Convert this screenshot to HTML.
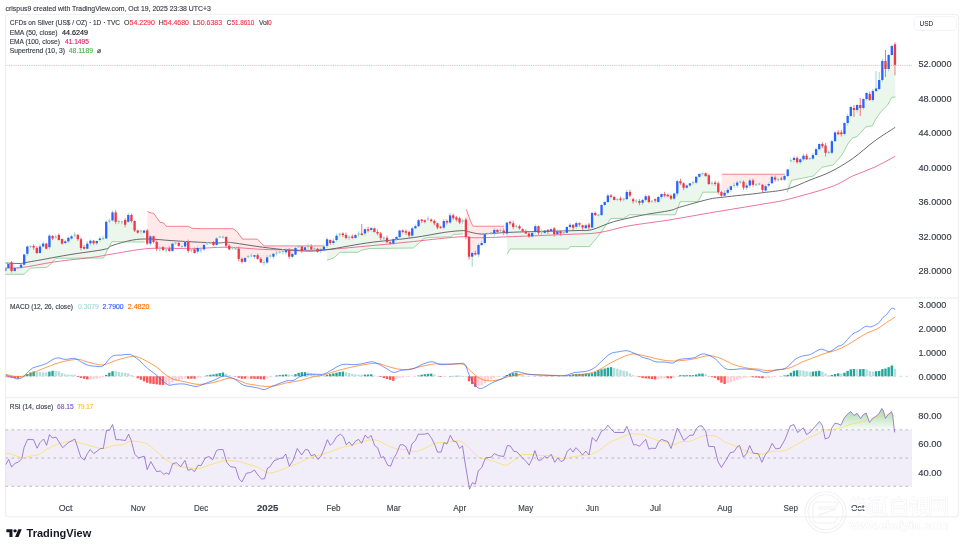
<!DOCTYPE html><html><head><meta charset="utf-8"><style>html,body{margin:0;padding:0;background:#fff;width:964px;height:550px;overflow:hidden}svg{display:block;filter:blur(0.3px)}</style></head><body>
<svg width="964" height="550" viewBox="0 0 964 550" font-family='"Liberation Sans", sans-serif'>
<rect width="964" height="550" fill="#fff"/>
<defs><clipPath id="plot"><rect x="5.5" y="14.8" width="906.5" height="501.5"/></clipPath><linearGradient id="ob" gradientUnits="userSpaceOnUse" x1="0" y1="408" x2="0" y2="430"><stop offset="0" stop-color="#4CAF50" stop-opacity="0.5"/><stop offset="1" stop-color="#4CAF50" stop-opacity="0.04"/></linearGradient><clipPath id="above70"><rect x="5" y="398" width="907" height="31.8"/></clipPath></defs>
<text x="5.6" y="10.9" font-size="6.9" fill="#3a3d44" stroke="#3a3d44" stroke-width="0.14" textLength="205.2" lengthAdjust="spacingAndGlyphs">crispus9 created with TradingView.com, Oct 19, 2025 23:38 UTC+3</text>
<rect x="5.5" y="14.3" width="953" height="502.5" rx="3" fill="none" stroke="#F1F1F2" stroke-width="1.3"/>
<rect x="5.5" y="297.2" width="953" height="1.4" fill="#EEF0F4"/>
<rect x="5.5" y="396.8" width="953" height="1.4" fill="#EEF0F4"/>
<g clip-path="url(#plot)">
<polygon points="5.2,269.5 8.4,266.0 11.6,266.8 14.7,269.5 17.9,267.6 21.0,266.1 24.2,259.6 27.3,250.2 30.5,246.5 33.6,246.8 36.8,250.5 40.0,249.8 43.1,245.1 46.3,246.1 49.4,241.4 52.6,237.2 55.7,237.0 58.9,237.5 62.0,241.3 65.2,242.2 68.3,239.6 71.5,237.4 74.7,235.0 77.8,237.1 81.0,243.6 84.1,247.8 87.3,246.1 90.4,242.0 93.6,242.0 96.7,242.2 99.9,239.2 103.1,238.5 106.2,230.2 109.4,221.0 112.5,216.4 115.7,217.1 118.8,221.5 122.0,221.8 125.1,222.3 128.3,218.4 131.4,218.0 134.6,225.8 137.8,231.6 140.9,231.0 144.1,231.6 144.7,242.1 112.0,241.7 108.9,247.1 103.5,258.0 56.0,258.3 49.8,265.0 46.7,267.3 30.3,268.1 24.1,274.3 5.4,274.3" fill="#4CAF50" fill-opacity="0.11"/>
<polygon points="147.2,237.1 150.4,239.9 153.5,239.2 156.7,245.3 159.8,248.7 163.0,248.6 166.2,250.0 169.3,249.8 172.5,247.2 175.6,243.0 178.8,244.4 181.9,246.5 185.1,244.2 188.2,246.4 191.4,250.1 194.5,251.2 197.7,249.8 200.9,250.0 204.0,247.2 207.2,243.0 210.3,243.0 213.5,243.5 216.6,241.8 219.8,237.0 222.9,237.0 226.1,241.4 229.3,247.6 232.4,248.0 235.6,248.7 238.7,253.8 241.9,260.4 245.0,259.9 248.2,256.7 251.3,256.0 254.5,255.9 257.6,257.0 260.8,260.7 264.0,262.5 267.1,259.9 270.3,256.0 273.4,255.2 276.6,253.0 279.7,252.3 282.9,251.6 286.0,251.2 289.2,253.4 292.4,255.4 295.5,251.3 298.7,246.6 301.8,248.8 305.0,248.8 308.1,246.6 311.3,248.1 314.4,248.8 317.6,250.2 320.8,250.2 323.9,248.4 324.3,245.9 264.1,245.9 257.3,239.1 242.5,239.1 237.1,231.7 233.1,228.7 200.7,228.7 191.9,228.3 188.6,226.3 166.3,226.3 163.6,222.9 160.2,222.3 153.5,213.2 150.1,212.8 147.4,211.5" fill="#FF5252" fill-opacity="0.13"/>
<polygon points="327.1,242.6 330.2,241.5 333.4,241.9 336.5,237.8 339.7,234.2 342.8,234.2 346.0,236.4 349.1,237.2 352.3,237.2 355.5,236.4 358.6,234.0 361.8,234.2 364.9,231.3 368.1,229.9 371.2,229.0 374.4,230.2 377.5,232.8 380.7,235.7 383.8,238.0 387.0,240.0 390.2,242.9 393.3,241.4 396.5,238.1 399.6,233.8 402.8,231.2 405.9,231.9 409.1,233.8 412.2,231.9 415.4,227.2 418.6,223.2 421.7,220.3 424.9,221.1 428.0,218.9 431.2,220.3 434.3,222.2 437.5,225.4 440.6,227.2 443.8,224.3 446.9,221.8 450.1,218.9 453.3,216.8 456.4,218.5 459.6,220.3 462.7,221.0 463.1,234.0 453.8,234.4 450.7,236.8 427.4,237.6 422.7,239.1 419.6,242.7 413.4,248.0 369.8,248.5 362.0,250.0 358.1,252.3 340.2,252.3 334.0,257.8 327.0,260.4" fill="#4CAF50" fill-opacity="0.11"/>
<polygon points="465.9,228.3 469.0,246.8 472.2,254.8 475.3,253.8 478.5,249.8 481.7,244.1 484.8,238.6 488.0,233.5 491.1,233.0 494.3,231.7 497.4,230.9 500.6,230.6 503.7,231.7 504.2,226.2 473.0,226.2 470.8,221.8 466.3,209.4" fill="#FF5252" fill-opacity="0.13"/>
<polygon points="506.9,228.1 510.0,222.6 513.2,225.2 516.4,226.2 519.5,227.3 522.7,230.2 525.8,232.4 529.0,234.9 532.1,234.6 535.3,229.1 538.4,229.5 541.6,232.0 544.8,231.7 547.9,230.9 551.1,230.2 554.2,231.3 557.4,232.8 560.5,232.4 563.7,232.5 566.8,229.9 570.0,225.9 573.1,226.2 576.3,224.9 579.5,223.8 582.6,226.4 585.8,226.8 588.9,226.1 592.1,220.2 595.2,214.1 598.4,215.1 601.5,210.1 604.7,203.5 607.9,198.8 611.0,196.2 614.2,198.4 617.3,199.6 620.5,199.2 623.6,199.2 626.8,195.6 629.9,193.7 633.1,200.2 636.2,201.0 639.4,201.9 642.6,201.4 645.7,198.1 648.9,199.1 652.0,201.3 655.2,199.9 658.3,199.5 661.5,195.5 664.6,194.8 667.8,195.5 671.0,197.1 674.1,196.1 677.3,187.3 680.4,182.2 683.6,185.5 686.7,186.6 689.9,184.4 693.0,182.6 696.2,179.7 699.3,175.4 702.5,173.6 705.7,174.6 708.8,179.7 712.0,183.3 715.1,183.3 718.3,187.7 718.7,192.2 702.9,192.2 698.1,201.7 680.2,201.7 675.4,214.8 629.4,214.8 623.6,218.4 611.0,218.4 599.0,235.1 589.5,246.6 570.4,246.6 568.0,249.0 510.0,249.0 507.2,254.2" fill="#4CAF50" fill-opacity="0.11"/>
<polygon points="721.4,193.9 724.6,194.2 727.7,191.4 730.9,188.1 734.1,185.5 737.2,184.1 740.4,181.9 743.5,184.8 746.7,186.6 749.8,182.9 753.0,182.6 756.1,184.8 759.3,184.0 762.4,187.4 765.6,188.4 768.8,184.8 771.9,180.1 775.1,178.6 778.2,179.7 781.4,179.1 784.5,177.8 784.9,174.2 721.9,174.2" fill="#FF5252" fill-opacity="0.13"/>
<polygon points="787.7,172.8 790.8,160.8 794.0,158.9 797.2,160.1 800.3,160.8 803.5,157.5 806.6,157.5 809.8,158.6 812.9,156.8 816.1,152.1 819.2,146.6 822.4,145.1 825.5,149.2 828.7,152.5 831.9,147.0 835.0,136.8 838.2,133.3 841.3,133.3 844.5,128.5 847.6,119.5 850.8,111.5 853.9,109.0 857.1,107.5 860.3,106.5 863.4,103.5 866.6,96.0 869.7,97.0 872.9,95.5 876.0,89.8 879.2,84.5 882.3,70.5 885.5,65.0 888.6,62.0 891.8,50.5 895.0,54.5 895.4,97.0 891.9,97.4 887.6,105.1 881.0,111.6 875.6,119.3 872.3,125.8 865.8,126.9 857.0,136.7 852.7,137.8 848.3,143.2 841.8,155.2 833.0,165.1 822.1,167.2 813.4,176.0 802.5,178.1 791.6,180.3 787.2,192.3" fill="#4CAF50" fill-opacity="0.11"/>
<path d="M5.4,268.1 C8.4,268.0 15.1,268.3 23.3,267.3 C31.5,266.3 42.8,263.6 54.5,261.9 C66.2,260.2 84.3,258.4 93.4,257.2 C102.5,256.0 99.5,256.1 108.9,254.6 C118.3,253.1 136.2,249.4 150.0,248.4 C163.8,247.4 179.3,248.9 192.0,248.7 C204.7,248.5 214.5,247.1 226.3,247.2 C238.1,247.3 252.6,249.0 262.7,249.4 C272.8,249.8 277.4,249.7 287.0,249.8 C296.6,249.9 306.7,250.6 320.0,250.0 C333.3,249.4 351.1,247.5 366.7,246.1 C382.3,244.7 397.8,243.1 413.4,241.5 C428.9,239.9 449.4,237.4 460.0,236.8 C470.6,236.2 467.2,237.9 477.0,237.8 C486.8,237.7 502.8,237.0 518.6,236.4 C534.4,235.8 558.6,234.8 572.0,234.2 C585.4,233.6 589.7,234.0 599.0,232.6 C608.3,231.2 616.7,228.1 628.0,226.0 C639.3,223.9 653.6,222.5 667.0,220.3 C680.4,218.2 692.3,215.9 708.6,213.1 C724.9,210.3 751.9,206.0 765.0,203.7 C778.1,201.4 776.2,202.3 787.2,199.5 C798.2,196.7 820.0,190.8 830.9,186.9 C841.8,183.0 845.4,179.3 852.7,176.0 C860.0,172.7 867.4,170.5 874.5,167.2 C881.6,163.9 891.8,158.1 895.2,156.3" fill="none" stroke="#F06292" stroke-width="1" stroke-opacity="0.9"/>
<path d="M5.4,263.0 C7.9,263.1 16.9,263.6 20.2,263.5 C23.4,263.4 20.5,263.5 24.9,262.7 C29.3,261.9 39.2,260.2 46.7,258.8 C54.2,257.4 60.4,256.2 70.0,254.6 C79.6,253.0 97.2,250.9 104.2,249.4 C111.2,247.9 107.3,247.2 112.0,245.6 C116.7,244.0 126.1,241.2 132.3,240.1 C138.5,239.0 143.1,238.9 149.4,239.0 C155.7,239.1 162.4,240.0 170.0,240.5 C177.6,241.0 186.8,241.6 195.0,242.0 C203.2,242.4 213.8,242.9 219.0,242.9 C224.2,242.9 223.9,242.2 226.3,242.2 C228.7,242.2 227.5,242.1 233.6,242.9 C239.7,243.7 253.3,246.0 262.7,247.2 C272.1,248.4 280.4,249.5 290.0,250.1 C299.6,250.7 307.2,251.8 320.0,250.6 C332.8,249.4 351.1,245.2 366.7,243.0 C382.3,240.8 400.4,239.4 413.4,237.6 C426.4,235.8 436.2,233.6 444.5,232.4 C452.8,231.2 458.9,230.7 463.1,230.6 C467.4,230.5 467.2,231.5 470.0,232.1 C472.8,232.7 476.8,233.8 480.0,234.0 C483.2,234.2 483.1,233.8 489.5,233.5 C495.9,233.2 504.4,232.5 518.6,232.0 C532.9,231.5 562.8,231.0 575.0,230.6 C587.2,230.2 585.4,231.2 591.8,229.7 C598.2,228.2 605.1,224.1 613.6,221.7 C622.1,219.3 633.3,217.0 642.7,215.1 C652.1,213.2 663.9,211.8 670.0,210.5 C676.1,209.2 673.1,209.2 679.5,207.3 C685.9,205.4 701.3,201.0 708.6,199.3 C715.9,197.6 714.2,198.3 723.1,197.2 C732.0,196.1 751.3,194.2 762.0,192.8 C772.7,191.4 779.2,191.1 787.2,189.0 C795.2,186.9 802.7,182.9 810.0,180.0 C817.3,177.1 823.8,175.2 830.9,171.6 C838.0,168.0 845.4,163.6 852.7,158.5 C860.0,153.4 867.4,146.3 874.5,141.1 C881.6,135.9 891.8,129.6 895.2,127.3" fill="none" stroke="#434651" stroke-width="1" stroke-opacity="0.8"/>
<polyline points="5.4,274.3 24.1,274.3 30.3,268.1 46.7,267.3 49.8,265.0 56.0,258.3 103.5,258.0 108.9,247.1 112.0,241.7 144.7,242.1" fill="none" stroke="#4CAF50" stroke-width="1" stroke-opacity="0.5"/>
<polyline points="147.4,211.5 150.1,212.8 153.5,213.2 160.2,222.3 163.6,222.9 166.3,226.3 188.6,226.3 191.9,228.3 200.7,228.7 233.1,228.7 237.1,231.7 242.5,239.1 257.3,239.1 264.1,245.9 324.3,245.9" fill="none" stroke="#F23645" stroke-width="1" stroke-opacity="0.6"/>
<polyline points="327.0,260.4 334.0,257.8 340.2,252.3 358.1,252.3 362.0,250.0 369.8,248.5 413.4,248.0 419.6,242.7 422.7,239.1 427.4,237.6 450.7,236.8 453.8,234.4 463.1,234.0" fill="none" stroke="#4CAF50" stroke-width="1" stroke-opacity="0.5"/>
<polyline points="466.3,209.4 470.8,221.8 473.0,226.2 504.2,226.2" fill="none" stroke="#F23645" stroke-width="1" stroke-opacity="0.6"/>
<polyline points="507.2,254.2 510.0,249.0 568.0,249.0 570.4,246.6 589.5,246.6 599.0,235.1 611.0,218.4 623.6,218.4 629.4,214.8 675.4,214.8 680.2,201.7 698.1,201.7 702.9,192.2 718.7,192.2" fill="none" stroke="#4CAF50" stroke-width="1" stroke-opacity="0.5"/>
<polyline points="721.9,174.2 784.9,174.2" fill="none" stroke="#F23645" stroke-width="1" stroke-opacity="0.6"/>
<polyline points="787.2,192.3 791.6,180.3 802.5,178.1 813.4,176.0 822.1,167.2 833.0,165.1 841.8,155.2 848.3,143.2 852.7,137.8 857.0,136.7 865.8,126.9 872.3,125.8 875.6,119.3 881.0,111.6 887.6,105.1 891.9,97.4 895.4,97.0" fill="none" stroke="#4CAF50" stroke-width="1" stroke-opacity="0.5"/>
<rect x="4.75" y="266.9" width="1" height="4.9" fill="#9fd6cf"/>
<rect x="4.10" y="268.0" width="2.3" height="3.0" fill="#2962FF"/>
<rect x="7.90" y="262.2" width="1" height="6.4" fill="#9fd6cf"/>
<rect x="7.25" y="264.0" width="2.3" height="4.0" fill="#2962FF"/>
<rect x="11.06" y="261.0" width="1" height="11.5" fill="#f07a84"/>
<rect x="10.41" y="262.5" width="2.3" height="8.5" fill="#F23645"/>
<rect x="14.21" y="266.4" width="1" height="5.8" fill="#9fd6cf"/>
<rect x="13.56" y="268.0" width="2.3" height="3.0" fill="#2962FF"/>
<rect x="17.37" y="266.5" width="1" height="3.1" fill="#9fd6cf"/>
<rect x="16.72" y="267.1" width="2.3" height="1.0" fill="#7fc4bb"/>
<rect x="20.52" y="264.1" width="1" height="4.8" fill="#9fd6cf"/>
<rect x="19.88" y="264.7" width="2.3" height="2.9" fill="#2962FF"/>
<rect x="23.68" y="253.9" width="1" height="11.5" fill="#9fd6cf"/>
<rect x="23.03" y="254.5" width="2.3" height="10.2" fill="#2962FF"/>
<rect x="26.83" y="245.2" width="1" height="10.8" fill="#9fd6cf"/>
<rect x="26.18" y="246.5" width="2.3" height="7.3" fill="#2962FF"/>
<rect x="29.99" y="245.3" width="1" height="2.7" fill="#9fd6cf"/>
<rect x="29.34" y="246.0" width="2.3" height="1.0" fill="#7fc4bb"/>
<rect x="33.14" y="244.2" width="1" height="5.7" fill="#f07a84"/>
<rect x="32.49" y="246.0" width="2.3" height="1.5" fill="#F23645"/>
<rect x="36.30" y="246.3" width="1" height="7.9" fill="#f07a84"/>
<rect x="35.65" y="248.0" width="2.3" height="5.0" fill="#F23645"/>
<rect x="39.45" y="244.0" width="1" height="9.5" fill="#9fd6cf"/>
<rect x="38.80" y="246.5" width="2.3" height="6.5" fill="#2962FF"/>
<rect x="42.61" y="241.4" width="1" height="6.2" fill="#9fd6cf"/>
<rect x="41.96" y="243.6" width="2.3" height="2.9" fill="#2962FF"/>
<rect x="45.77" y="242.8" width="1" height="6.6" fill="#f07a84"/>
<rect x="45.12" y="243.6" width="2.3" height="5.1" fill="#F23645"/>
<rect x="48.92" y="234.5" width="1" height="14.8" fill="#9fd6cf"/>
<rect x="48.27" y="235.6" width="2.3" height="11.6" fill="#2962FF"/>
<rect x="52.07" y="235.1" width="1" height="5.0" fill="#f07a84"/>
<rect x="51.42" y="236.0" width="2.3" height="2.5" fill="#F23645"/>
<rect x="55.23" y="234.7" width="1" height="4.0" fill="#9fd6cf"/>
<rect x="54.58" y="236.5" width="2.3" height="1.0" fill="#7fc4bb"/>
<rect x="58.38" y="233.4" width="1" height="7.2" fill="#f07a84"/>
<rect x="57.73" y="235.0" width="2.3" height="5.0" fill="#F23645"/>
<rect x="61.54" y="238.4" width="1" height="6.1" fill="#f07a84"/>
<rect x="60.89" y="239.0" width="2.3" height="4.6" fill="#F23645"/>
<rect x="64.69" y="239.5" width="1" height="4.8" fill="#9fd6cf"/>
<rect x="64.04" y="241.4" width="2.3" height="1.6" fill="#2962FF"/>
<rect x="67.85" y="236.7" width="1" height="6.4" fill="#9fd6cf"/>
<rect x="67.20" y="237.8" width="2.3" height="3.6" fill="#2962FF"/>
<rect x="71.00" y="234.9" width="1" height="4.7" fill="#9fd6cf"/>
<rect x="70.35" y="236.3" width="2.3" height="2.2" fill="#2962FF"/>
<rect x="74.16" y="232.4" width="1" height="5.0" fill="#9fd6cf"/>
<rect x="73.51" y="234.5" width="2.3" height="1.0" fill="#7fc4bb"/>
<rect x="77.31" y="234.0" width="1" height="6.8" fill="#f07a84"/>
<rect x="76.66" y="235.0" width="2.3" height="4.2" fill="#F23645"/>
<rect x="80.47" y="237.6" width="1" height="12.6" fill="#f07a84"/>
<rect x="79.82" y="239.2" width="2.3" height="8.8" fill="#F23645"/>
<rect x="83.62" y="245.0" width="1" height="4.7" fill="#f07a84"/>
<rect x="82.97" y="247.0" width="2.3" height="1.7" fill="#F23645"/>
<rect x="86.78" y="241.1" width="1" height="8.3" fill="#9fd6cf"/>
<rect x="86.13" y="243.6" width="2.3" height="5.1" fill="#2962FF"/>
<rect x="89.93" y="239.4" width="1" height="6.0" fill="#9fd6cf"/>
<rect x="89.28" y="240.7" width="2.3" height="2.6" fill="#2962FF"/>
<rect x="93.09" y="239.9" width="1" height="4.9" fill="#f07a84"/>
<rect x="92.44" y="240.7" width="2.3" height="2.6" fill="#F23645"/>
<rect x="96.24" y="240.4" width="1" height="4.7" fill="#9fd6cf"/>
<rect x="95.59" y="241.0" width="2.3" height="2.3" fill="#2962FF"/>
<rect x="99.40" y="236.5" width="1" height="5.2" fill="#9fd6cf"/>
<rect x="98.75" y="238.5" width="2.3" height="1.5" fill="#2962FF"/>
<rect x="102.55" y="235.7" width="1" height="4.4" fill="#9fd6cf"/>
<rect x="101.90" y="238.0" width="2.3" height="1.0" fill="#7fc4bb"/>
<rect x="105.71" y="220.5" width="1" height="18.5" fill="#9fd6cf"/>
<rect x="105.06" y="221.8" width="2.3" height="16.7" fill="#2962FF"/>
<rect x="108.86" y="218.6" width="1" height="4.6" fill="#9fd6cf"/>
<rect x="108.21" y="220.5" width="2.3" height="1.0" fill="#7fc4bb"/>
<rect x="112.02" y="210.7" width="1" height="11.0" fill="#9fd6cf"/>
<rect x="111.37" y="212.4" width="2.3" height="7.9" fill="#2962FF"/>
<rect x="115.17" y="210.2" width="1" height="14.0" fill="#f07a84"/>
<rect x="114.52" y="212.4" width="2.3" height="9.4" fill="#F23645"/>
<rect x="118.33" y="219.6" width="1" height="4.3" fill="#9fd6cf"/>
<rect x="117.68" y="221.0" width="2.3" height="1.0" fill="#7fc4bb"/>
<rect x="121.48" y="220.7" width="1" height="3.5" fill="#9fd6cf"/>
<rect x="120.83" y="221.3" width="2.3" height="1.0" fill="#7fc4bb"/>
<rect x="124.64" y="218.2" width="1" height="9.0" fill="#f07a84"/>
<rect x="123.99" y="220.0" width="2.3" height="4.7" fill="#F23645"/>
<rect x="127.79" y="212.9" width="1" height="10.0" fill="#9fd6cf"/>
<rect x="127.14" y="215.0" width="2.3" height="6.8" fill="#2962FF"/>
<rect x="130.95" y="213.7" width="1" height="9.1" fill="#f07a84"/>
<rect x="130.30" y="215.0" width="2.3" height="6.0" fill="#F23645"/>
<rect x="134.10" y="220.5" width="1" height="11.5" fill="#f07a84"/>
<rect x="133.45" y="221.0" width="2.3" height="9.5" fill="#F23645"/>
<rect x="137.26" y="229.7" width="1" height="3.8" fill="#f07a84"/>
<rect x="136.61" y="230.5" width="2.3" height="2.2" fill="#F23645"/>
<rect x="140.41" y="229.9" width="1" height="3.7" fill="#9fd6cf"/>
<rect x="139.76" y="230.5" width="2.3" height="1.0" fill="#7fc4bb"/>
<rect x="143.57" y="229.7" width="1" height="4.0" fill="#9fd6cf"/>
<rect x="142.92" y="230.5" width="2.3" height="2.2" fill="#2962FF"/>
<rect x="146.72" y="229.0" width="1" height="16.0" fill="#f07a84"/>
<rect x="146.07" y="230.5" width="2.3" height="13.1" fill="#F23645"/>
<rect x="149.88" y="235.0" width="1" height="10.8" fill="#9fd6cf"/>
<rect x="149.23" y="236.3" width="2.3" height="7.3" fill="#2962FF"/>
<rect x="153.03" y="235.6" width="1" height="7.8" fill="#f07a84"/>
<rect x="152.38" y="236.3" width="2.3" height="5.7" fill="#F23645"/>
<rect x="156.19" y="240.4" width="1" height="10.6" fill="#f07a84"/>
<rect x="155.54" y="242.0" width="2.3" height="6.7" fill="#F23645"/>
<rect x="159.34" y="246.1" width="1" height="5.4" fill="#9fd6cf"/>
<rect x="158.69" y="248.2" width="2.3" height="1.0" fill="#7fc4bb"/>
<rect x="162.50" y="246.1" width="1" height="5.2" fill="#f07a84"/>
<rect x="161.85" y="247.2" width="2.3" height="2.8" fill="#F23645"/>
<rect x="165.66" y="248.3" width="1" height="4.5" fill="#9fd6cf"/>
<rect x="165.00" y="249.5" width="2.3" height="1.0" fill="#7fc4bb"/>
<rect x="168.81" y="246.3" width="1" height="5.4" fill="#f07a84"/>
<rect x="168.16" y="248.7" width="2.3" height="2.2" fill="#F23645"/>
<rect x="171.97" y="242.7" width="1" height="9.1" fill="#9fd6cf"/>
<rect x="171.31" y="243.6" width="2.3" height="7.3" fill="#2962FF"/>
<rect x="175.12" y="241.5" width="1" height="3.4" fill="#9fd6cf"/>
<rect x="174.47" y="242.5" width="2.3" height="1.0" fill="#7fc4bb"/>
<rect x="178.27" y="241.3" width="1" height="5.5" fill="#f07a84"/>
<rect x="177.62" y="243.0" width="2.3" height="2.8" fill="#F23645"/>
<rect x="181.43" y="245.5" width="1" height="2.8" fill="#9fd6cf"/>
<rect x="180.78" y="246.0" width="2.3" height="1.0" fill="#7fc4bb"/>
<rect x="184.58" y="240.8" width="1" height="7.4" fill="#9fd6cf"/>
<rect x="183.93" y="242.0" width="2.3" height="4.5" fill="#2962FF"/>
<rect x="187.74" y="239.6" width="1" height="13.2" fill="#f07a84"/>
<rect x="187.09" y="242.0" width="2.3" height="8.9" fill="#F23645"/>
<rect x="190.89" y="248.1" width="1" height="4.3" fill="#9fd6cf"/>
<rect x="190.24" y="249.6" width="2.3" height="1.0" fill="#7fc4bb"/>
<rect x="194.05" y="247.5" width="1" height="6.1" fill="#f07a84"/>
<rect x="193.40" y="249.4" width="2.3" height="3.6" fill="#F23645"/>
<rect x="197.20" y="245.7" width="1" height="8.0" fill="#9fd6cf"/>
<rect x="196.55" y="248.0" width="2.3" height="3.6" fill="#2962FF"/>
<rect x="200.36" y="247.3" width="1" height="5.3" fill="#9fd6cf"/>
<rect x="199.71" y="249.5" width="2.3" height="1.0" fill="#7fc4bb"/>
<rect x="203.51" y="243.7" width="1" height="7.0" fill="#9fd6cf"/>
<rect x="202.86" y="245.0" width="2.3" height="4.4" fill="#2962FF"/>
<rect x="206.67" y="241.8" width="1" height="3.5" fill="#9fd6cf"/>
<rect x="206.02" y="242.5" width="2.3" height="1.0" fill="#7fc4bb"/>
<rect x="209.82" y="241.9" width="1" height="2.3" fill="#9fd6cf"/>
<rect x="209.17" y="242.5" width="2.3" height="1.0" fill="#7fc4bb"/>
<rect x="212.98" y="241.1" width="1" height="4.7" fill="#f07a84"/>
<rect x="212.33" y="242.0" width="2.3" height="3.0" fill="#F23645"/>
<rect x="216.13" y="237.3" width="1" height="8.3" fill="#9fd6cf"/>
<rect x="215.48" y="238.5" width="2.3" height="6.5" fill="#2962FF"/>
<rect x="219.29" y="236.0" width="1" height="2.3" fill="#9fd6cf"/>
<rect x="218.64" y="236.5" width="2.3" height="1.0" fill="#7fc4bb"/>
<rect x="222.44" y="235.8" width="1" height="2.9" fill="#9fd6cf"/>
<rect x="221.79" y="236.5" width="2.3" height="1.0" fill="#7fc4bb"/>
<rect x="225.60" y="236.4" width="1" height="11.6" fill="#f07a84"/>
<rect x="224.95" y="237.0" width="2.3" height="8.8" fill="#F23645"/>
<rect x="228.75" y="244.1" width="1" height="6.1" fill="#f07a84"/>
<rect x="228.10" y="245.8" width="2.3" height="3.6" fill="#F23645"/>
<rect x="231.91" y="246.5" width="1" height="3.2" fill="#9fd6cf"/>
<rect x="231.26" y="247.5" width="2.3" height="1.0" fill="#7fc4bb"/>
<rect x="235.06" y="247.0" width="1" height="3.0" fill="#9fd6cf"/>
<rect x="234.41" y="248.2" width="2.3" height="1.0" fill="#7fc4bb"/>
<rect x="238.22" y="246.5" width="1" height="14.9" fill="#f07a84"/>
<rect x="237.57" y="248.7" width="2.3" height="10.2" fill="#F23645"/>
<rect x="241.37" y="257.5" width="1" height="5.8" fill="#f07a84"/>
<rect x="240.72" y="258.9" width="2.3" height="2.9" fill="#F23645"/>
<rect x="244.53" y="257.3" width="1" height="5.2" fill="#9fd6cf"/>
<rect x="243.88" y="258.0" width="2.3" height="3.8" fill="#2962FF"/>
<rect x="247.68" y="255.0" width="1" height="3.2" fill="#9fd6cf"/>
<rect x="247.03" y="256.2" width="2.3" height="1.0" fill="#7fc4bb"/>
<rect x="250.84" y="253.3" width="1" height="4.0" fill="#9fd6cf"/>
<rect x="250.19" y="255.5" width="2.3" height="1.0" fill="#7fc4bb"/>
<rect x="253.99" y="254.7" width="1" height="4.4" fill="#9fd6cf"/>
<rect x="253.34" y="255.2" width="2.3" height="1.5" fill="#2962FF"/>
<rect x="257.15" y="253.6" width="1" height="6.0" fill="#f07a84"/>
<rect x="256.50" y="255.2" width="2.3" height="3.7" fill="#F23645"/>
<rect x="260.30" y="257.3" width="1" height="5.7" fill="#f07a84"/>
<rect x="259.65" y="258.9" width="2.3" height="3.6" fill="#F23645"/>
<rect x="263.46" y="260.4" width="1" height="5.0" fill="#9fd6cf"/>
<rect x="262.81" y="262.0" width="2.3" height="1.0" fill="#7fc4bb"/>
<rect x="266.62" y="255.2" width="1" height="9.2" fill="#9fd6cf"/>
<rect x="265.97" y="257.4" width="2.3" height="5.1" fill="#2962FF"/>
<rect x="269.77" y="254.5" width="1" height="3.3" fill="#9fd6cf"/>
<rect x="269.12" y="255.5" width="2.3" height="1.0" fill="#7fc4bb"/>
<rect x="272.93" y="253.0" width="1" height="5.8" fill="#9fd6cf"/>
<rect x="272.28" y="253.8" width="2.3" height="2.9" fill="#2962FF"/>
<rect x="276.08" y="250.9" width="1" height="4.6" fill="#9fd6cf"/>
<rect x="275.43" y="252.5" width="2.3" height="1.0" fill="#7fc4bb"/>
<rect x="279.23" y="250.6" width="1" height="3.1" fill="#9fd6cf"/>
<rect x="278.58" y="251.8" width="2.3" height="1.0" fill="#7fc4bb"/>
<rect x="282.39" y="249.0" width="1" height="5.6" fill="#9fd6cf"/>
<rect x="281.74" y="251.1" width="2.3" height="1.0" fill="#7fc4bb"/>
<rect x="285.54" y="247.9" width="1" height="6.5" fill="#9fd6cf"/>
<rect x="284.89" y="250.1" width="2.3" height="2.2" fill="#2962FF"/>
<rect x="288.70" y="248.0" width="1" height="10.7" fill="#f07a84"/>
<rect x="288.05" y="250.1" width="2.3" height="6.6" fill="#F23645"/>
<rect x="291.85" y="252.9" width="1" height="5.4" fill="#9fd6cf"/>
<rect x="291.20" y="253.9" width="2.3" height="2.9" fill="#2962FF"/>
<rect x="295.01" y="246.8" width="1" height="8.4" fill="#9fd6cf"/>
<rect x="294.36" y="248.0" width="2.3" height="6.6" fill="#2962FF"/>
<rect x="298.16" y="245.5" width="1" height="2.6" fill="#9fd6cf"/>
<rect x="297.51" y="246.1" width="2.3" height="1.0" fill="#7fc4bb"/>
<rect x="301.32" y="245.6" width="1" height="7.3" fill="#f07a84"/>
<rect x="300.67" y="246.6" width="2.3" height="4.4" fill="#F23645"/>
<rect x="304.47" y="244.9" width="1" height="6.7" fill="#9fd6cf"/>
<rect x="303.82" y="247.3" width="2.3" height="2.9" fill="#2962FF"/>
<rect x="307.63" y="243.7" width="1" height="5.9" fill="#9fd6cf"/>
<rect x="306.98" y="246.1" width="2.3" height="1.0" fill="#7fc4bb"/>
<rect x="310.78" y="244.2" width="1" height="6.5" fill="#f07a84"/>
<rect x="310.13" y="246.6" width="2.3" height="2.9" fill="#F23645"/>
<rect x="313.94" y="247.4" width="1" height="2.9" fill="#9fd6cf"/>
<rect x="313.29" y="248.3" width="2.3" height="1.0" fill="#7fc4bb"/>
<rect x="317.09" y="247.9" width="1" height="4.7" fill="#f07a84"/>
<rect x="316.44" y="248.8" width="2.3" height="2.9" fill="#F23645"/>
<rect x="320.25" y="247.8" width="1" height="5.5" fill="#9fd6cf"/>
<rect x="319.60" y="249.5" width="2.3" height="1.5" fill="#2962FF"/>
<rect x="323.40" y="244.4" width="1" height="7.2" fill="#9fd6cf"/>
<rect x="322.75" y="246.6" width="2.3" height="3.6" fill="#2962FF"/>
<rect x="326.56" y="237.5" width="1" height="10.5" fill="#9fd6cf"/>
<rect x="325.91" y="239.3" width="2.3" height="6.6" fill="#2962FF"/>
<rect x="329.71" y="239.3" width="1" height="5.5" fill="#f07a84"/>
<rect x="329.06" y="240.0" width="2.3" height="3.0" fill="#F23645"/>
<rect x="332.87" y="238.5" width="1" height="6.6" fill="#9fd6cf"/>
<rect x="332.22" y="240.8" width="2.3" height="2.2" fill="#2962FF"/>
<rect x="336.02" y="233.7" width="1" height="7.8" fill="#9fd6cf"/>
<rect x="335.38" y="235.7" width="2.3" height="4.3" fill="#2962FF"/>
<rect x="339.18" y="232.8" width="1" height="3.9" fill="#9fd6cf"/>
<rect x="338.53" y="233.7" width="2.3" height="1.0" fill="#7fc4bb"/>
<rect x="342.33" y="232.3" width="1" height="4.8" fill="#f07a84"/>
<rect x="341.69" y="233.5" width="2.3" height="1.5" fill="#F23645"/>
<rect x="345.49" y="232.6" width="1" height="6.6" fill="#f07a84"/>
<rect x="344.84" y="235.0" width="2.3" height="2.9" fill="#F23645"/>
<rect x="348.64" y="235.4" width="1" height="4.7" fill="#9fd6cf"/>
<rect x="348.00" y="236.7" width="2.3" height="1.0" fill="#7fc4bb"/>
<rect x="351.80" y="234.5" width="1" height="4.3" fill="#f07a84"/>
<rect x="351.15" y="236.4" width="2.3" height="1.5" fill="#F23645"/>
<rect x="354.95" y="234.2" width="1" height="4.5" fill="#9fd6cf"/>
<rect x="354.31" y="235.0" width="2.3" height="2.9" fill="#2962FF"/>
<rect x="358.11" y="231.2" width="1" height="5.4" fill="#9fd6cf"/>
<rect x="357.46" y="233.5" width="2.3" height="1.0" fill="#7fc4bb"/>
<rect x="361.26" y="224.0" width="1" height="11.5" fill="#f07a84"/>
<rect x="360.62" y="233.5" width="2.3" height="1.5" fill="#F23645"/>
<rect x="364.42" y="228.4" width="1" height="7.2" fill="#9fd6cf"/>
<rect x="363.77" y="229.2" width="2.3" height="4.3" fill="#2962FF"/>
<rect x="367.57" y="226.7" width="1" height="5.7" fill="#f07a84"/>
<rect x="366.93" y="229.2" width="2.3" height="1.4" fill="#F23645"/>
<rect x="370.73" y="226.9" width="1" height="4.6" fill="#9fd6cf"/>
<rect x="370.08" y="228.1" width="2.3" height="1.8" fill="#2962FF"/>
<rect x="373.88" y="227.6" width="1" height="4.9" fill="#f07a84"/>
<rect x="373.24" y="228.4" width="2.3" height="3.6" fill="#F23645"/>
<rect x="377.04" y="229.6" width="1" height="5.7" fill="#f07a84"/>
<rect x="376.39" y="232.0" width="2.3" height="1.5" fill="#F23645"/>
<rect x="380.19" y="231.9" width="1" height="8.3" fill="#f07a84"/>
<rect x="379.55" y="233.5" width="2.3" height="4.4" fill="#F23645"/>
<rect x="383.35" y="236.1" width="1" height="4.6" fill="#9fd6cf"/>
<rect x="382.70" y="237.5" width="2.3" height="1.0" fill="#7fc4bb"/>
<rect x="386.50" y="235.6" width="1" height="7.5" fill="#f07a84"/>
<rect x="385.86" y="237.8" width="2.3" height="4.4" fill="#F23645"/>
<rect x="389.66" y="241.2" width="1" height="3.5" fill="#f07a84"/>
<rect x="389.01" y="242.2" width="2.3" height="1.4" fill="#F23645"/>
<rect x="392.81" y="238.2" width="1" height="7.1" fill="#9fd6cf"/>
<rect x="392.17" y="239.2" width="2.3" height="4.4" fill="#2962FF"/>
<rect x="395.97" y="236.0" width="1" height="4.6" fill="#9fd6cf"/>
<rect x="395.32" y="237.0" width="2.3" height="2.2" fill="#2962FF"/>
<rect x="399.12" y="229.7" width="1" height="9.6" fill="#9fd6cf"/>
<rect x="398.48" y="230.5" width="2.3" height="6.5" fill="#2962FF"/>
<rect x="402.28" y="229.3" width="1" height="4.1" fill="#f07a84"/>
<rect x="401.63" y="230.5" width="2.3" height="1.5" fill="#F23645"/>
<rect x="405.44" y="229.5" width="1" height="5.5" fill="#f07a84"/>
<rect x="404.79" y="231.2" width="2.3" height="1.5" fill="#F23645"/>
<rect x="408.59" y="230.7" width="1" height="7.3" fill="#f07a84"/>
<rect x="407.94" y="232.0" width="2.3" height="3.6" fill="#F23645"/>
<rect x="411.74" y="226.8" width="1" height="10.4" fill="#9fd6cf"/>
<rect x="411.09" y="228.3" width="2.3" height="7.3" fill="#2962FF"/>
<rect x="414.90" y="224.7" width="1" height="4.2" fill="#9fd6cf"/>
<rect x="414.25" y="226.2" width="2.3" height="2.1" fill="#2962FF"/>
<rect x="418.05" y="218.9" width="1" height="8.1" fill="#9fd6cf"/>
<rect x="417.40" y="220.3" width="2.3" height="5.9" fill="#2962FF"/>
<rect x="421.21" y="219.1" width="1" height="4.0" fill="#f07a84"/>
<rect x="420.56" y="219.6" width="2.3" height="1.4" fill="#F23645"/>
<rect x="424.36" y="219.5" width="1" height="3.8" fill="#f07a84"/>
<rect x="423.71" y="220.3" width="2.3" height="1.5" fill="#F23645"/>
<rect x="427.52" y="216.4" width="1" height="4.6" fill="#9fd6cf"/>
<rect x="426.87" y="218.4" width="2.3" height="1.0" fill="#7fc4bb"/>
<rect x="430.67" y="218.4" width="1" height="4.1" fill="#f07a84"/>
<rect x="430.02" y="219.6" width="2.3" height="1.4" fill="#F23645"/>
<rect x="433.83" y="219.4" width="1" height="6.0" fill="#f07a84"/>
<rect x="433.18" y="221.0" width="2.3" height="2.3" fill="#F23645"/>
<rect x="436.98" y="222.6" width="1" height="6.6" fill="#f07a84"/>
<rect x="436.33" y="223.3" width="2.3" height="4.3" fill="#F23645"/>
<rect x="440.14" y="225.9" width="1" height="2.8" fill="#f07a84"/>
<rect x="439.49" y="226.9" width="2.3" height="1.0" fill="#F23645"/>
<rect x="443.29" y="219.0" width="1" height="10.2" fill="#9fd6cf"/>
<rect x="442.64" y="221.0" width="2.3" height="6.6" fill="#2962FF"/>
<rect x="446.45" y="219.4" width="1" height="5.1" fill="#f07a84"/>
<rect x="445.80" y="221.0" width="2.3" height="1.5" fill="#F23645"/>
<rect x="449.60" y="213.0" width="1" height="10.9" fill="#9fd6cf"/>
<rect x="448.95" y="215.3" width="2.3" height="7.2" fill="#2962FF"/>
<rect x="452.76" y="213.6" width="1" height="6.1" fill="#f07a84"/>
<rect x="452.11" y="215.3" width="2.3" height="2.9" fill="#F23645"/>
<rect x="455.91" y="215.9" width="1" height="5.6" fill="#f07a84"/>
<rect x="455.26" y="217.4" width="2.3" height="2.2" fill="#F23645"/>
<rect x="459.07" y="216.8" width="1" height="7.3" fill="#f07a84"/>
<rect x="458.42" y="218.2" width="2.3" height="4.3" fill="#F23645"/>
<rect x="462.22" y="219.0" width="1" height="4.8" fill="#9fd6cf"/>
<rect x="461.57" y="220.5" width="2.3" height="1.0" fill="#7fc4bb"/>
<rect x="465.38" y="217.7" width="1" height="21.6" fill="#f07a84"/>
<rect x="464.73" y="219.6" width="2.3" height="17.4" fill="#F23645"/>
<rect x="468.53" y="236.0" width="1" height="23.6" fill="#f07a84"/>
<rect x="467.88" y="237.0" width="2.3" height="19.7" fill="#F23645"/>
<rect x="471.69" y="252.0" width="1" height="14.9" fill="#9fd6cf"/>
<rect x="471.04" y="253.0" width="2.3" height="3.7" fill="#2962FF"/>
<rect x="474.84" y="250.6" width="1" height="4.9" fill="#f07a84"/>
<rect x="474.19" y="253.0" width="2.3" height="1.5" fill="#F23645"/>
<rect x="478.00" y="243.4" width="1" height="13.5" fill="#9fd6cf"/>
<rect x="477.35" y="245.0" width="2.3" height="9.5" fill="#2962FF"/>
<rect x="481.15" y="240.8" width="1" height="5.1" fill="#9fd6cf"/>
<rect x="480.50" y="243.0" width="2.3" height="2.1" fill="#2962FF"/>
<rect x="484.31" y="233.5" width="1" height="10.9" fill="#9fd6cf"/>
<rect x="483.66" y="234.2" width="2.3" height="8.8" fill="#2962FF"/>
<rect x="487.46" y="232.4" width="1" height="2.6" fill="#9fd6cf"/>
<rect x="486.81" y="233.0" width="2.3" height="1.0" fill="#7fc4bb"/>
<rect x="490.62" y="231.9" width="1" height="3.5" fill="#9fd6cf"/>
<rect x="489.97" y="232.5" width="2.3" height="1.0" fill="#7fc4bb"/>
<rect x="493.77" y="227.8" width="1" height="8.0" fill="#9fd6cf"/>
<rect x="493.12" y="229.9" width="2.3" height="3.6" fill="#2962FF"/>
<rect x="496.93" y="229.1" width="1" height="4.8" fill="#f07a84"/>
<rect x="496.28" y="229.9" width="2.3" height="2.1" fill="#F23645"/>
<rect x="500.08" y="228.3" width="1" height="3.6" fill="#9fd6cf"/>
<rect x="499.44" y="230.1" width="2.3" height="1.0" fill="#7fc4bb"/>
<rect x="503.24" y="228.3" width="1" height="6.9" fill="#f07a84"/>
<rect x="502.59" y="230.6" width="2.3" height="2.2" fill="#F23645"/>
<rect x="506.39" y="221.7" width="1" height="14.2" fill="#9fd6cf"/>
<rect x="505.75" y="222.6" width="2.3" height="10.9" fill="#2962FF"/>
<rect x="509.55" y="220.6" width="1" height="4.2" fill="#f07a84"/>
<rect x="508.90" y="221.9" width="2.3" height="1.4" fill="#F23645"/>
<rect x="512.70" y="220.8" width="1" height="8.3" fill="#f07a84"/>
<rect x="512.05" y="223.3" width="2.3" height="3.7" fill="#F23645"/>
<rect x="515.86" y="224.9" width="1" height="3.2" fill="#9fd6cf"/>
<rect x="515.21" y="225.7" width="2.3" height="1.0" fill="#7fc4bb"/>
<rect x="519.01" y="224.7" width="1" height="4.9" fill="#f07a84"/>
<rect x="518.37" y="226.2" width="2.3" height="2.2" fill="#F23645"/>
<rect x="522.17" y="228.3" width="1" height="4.1" fill="#f07a84"/>
<rect x="521.52" y="229.2" width="2.3" height="2.1" fill="#F23645"/>
<rect x="525.32" y="229.4" width="1" height="4.7" fill="#f07a84"/>
<rect x="524.67" y="231.3" width="2.3" height="2.2" fill="#F23645"/>
<rect x="528.48" y="231.9" width="1" height="5.9" fill="#f07a84"/>
<rect x="527.83" y="233.5" width="2.3" height="2.9" fill="#F23645"/>
<rect x="531.63" y="232.3" width="1" height="5.3" fill="#9fd6cf"/>
<rect x="530.99" y="232.8" width="2.3" height="3.6" fill="#2962FF"/>
<rect x="534.79" y="224.5" width="1" height="9.1" fill="#9fd6cf"/>
<rect x="534.14" y="226.2" width="2.3" height="5.8" fill="#2962FF"/>
<rect x="537.94" y="225.6" width="1" height="9.7" fill="#f07a84"/>
<rect x="537.29" y="226.2" width="2.3" height="6.6" fill="#F23645"/>
<rect x="541.10" y="229.4" width="1" height="5.5" fill="#9fd6cf"/>
<rect x="540.45" y="231.5" width="2.3" height="1.0" fill="#7fc4bb"/>
<rect x="544.25" y="229.9" width="1" height="3.9" fill="#9fd6cf"/>
<rect x="543.61" y="230.6" width="2.3" height="2.2" fill="#2962FF"/>
<rect x="547.41" y="229.3" width="1" height="4.7" fill="#f07a84"/>
<rect x="546.76" y="229.9" width="2.3" height="2.1" fill="#F23645"/>
<rect x="550.56" y="228.2" width="1" height="3.9" fill="#9fd6cf"/>
<rect x="549.91" y="229.2" width="2.3" height="2.1" fill="#2962FF"/>
<rect x="553.72" y="227.1" width="1" height="9.5" fill="#f07a84"/>
<rect x="553.07" y="228.4" width="2.3" height="5.8" fill="#F23645"/>
<rect x="556.88" y="229.2" width="1" height="6.1" fill="#9fd6cf"/>
<rect x="556.23" y="231.3" width="2.3" height="2.9" fill="#2962FF"/>
<rect x="560.03" y="230.5" width="1" height="5.3" fill="#f07a84"/>
<rect x="559.38" y="231.3" width="2.3" height="2.2" fill="#F23645"/>
<rect x="563.18" y="230.4" width="1" height="4.5" fill="#9fd6cf"/>
<rect x="562.53" y="232.0" width="2.3" height="1.0" fill="#7fc4bb"/>
<rect x="566.34" y="226.3" width="1" height="7.1" fill="#9fd6cf"/>
<rect x="565.69" y="227.0" width="2.3" height="5.8" fill="#2962FF"/>
<rect x="569.50" y="222.9" width="1" height="5.4" fill="#9fd6cf"/>
<rect x="568.85" y="224.8" width="2.3" height="2.2" fill="#2962FF"/>
<rect x="572.65" y="224.2" width="1" height="5.9" fill="#f07a84"/>
<rect x="572.00" y="224.8" width="2.3" height="2.9" fill="#F23645"/>
<rect x="575.80" y="221.3" width="1" height="7.6" fill="#9fd6cf"/>
<rect x="575.15" y="223.1" width="2.3" height="3.7" fill="#2962FF"/>
<rect x="578.96" y="222.4" width="1" height="4.4" fill="#f07a84"/>
<rect x="578.31" y="223.1" width="2.3" height="1.5" fill="#F23645"/>
<rect x="582.12" y="224.7" width="1" height="5.1" fill="#f07a84"/>
<rect x="581.47" y="225.3" width="2.3" height="2.2" fill="#F23645"/>
<rect x="585.27" y="223.9" width="1" height="5.5" fill="#9fd6cf"/>
<rect x="584.62" y="225.3" width="2.3" height="2.9" fill="#2962FF"/>
<rect x="588.42" y="223.0" width="1" height="6.9" fill="#f07a84"/>
<rect x="587.77" y="224.6" width="2.3" height="2.9" fill="#F23645"/>
<rect x="591.58" y="212.0" width="1" height="16.3" fill="#9fd6cf"/>
<rect x="590.93" y="213.0" width="2.3" height="14.5" fill="#2962FF"/>
<rect x="594.74" y="211.4" width="1" height="4.6" fill="#f07a84"/>
<rect x="594.09" y="213.0" width="2.3" height="2.1" fill="#F23645"/>
<rect x="597.89" y="213.9" width="1" height="2.5" fill="#9fd6cf"/>
<rect x="597.24" y="214.6" width="2.3" height="1.0" fill="#7fc4bb"/>
<rect x="601.04" y="204.4" width="1" height="11.6" fill="#9fd6cf"/>
<rect x="600.39" y="205.0" width="2.3" height="10.1" fill="#2962FF"/>
<rect x="604.20" y="200.9" width="1" height="5.2" fill="#9fd6cf"/>
<rect x="603.55" y="202.0" width="2.3" height="3.0" fill="#2962FF"/>
<rect x="607.36" y="193.5" width="1" height="9.6" fill="#9fd6cf"/>
<rect x="606.71" y="195.5" width="2.3" height="6.5" fill="#2962FF"/>
<rect x="610.51" y="194.0" width="1" height="3.9" fill="#f07a84"/>
<rect x="609.86" y="195.5" width="2.3" height="1.5" fill="#F23645"/>
<rect x="613.66" y="195.8" width="1" height="4.6" fill="#f07a84"/>
<rect x="613.01" y="197.0" width="2.3" height="2.9" fill="#F23645"/>
<rect x="616.82" y="198.1" width="1" height="2.5" fill="#9fd6cf"/>
<rect x="616.17" y="199.1" width="2.3" height="1.0" fill="#7fc4bb"/>
<rect x="619.97" y="196.5" width="1" height="5.0" fill="#f07a84"/>
<rect x="619.32" y="198.5" width="2.3" height="1.4" fill="#F23645"/>
<rect x="623.13" y="197.8" width="1" height="3.3" fill="#9fd6cf"/>
<rect x="622.48" y="198.7" width="2.3" height="1.0" fill="#7fc4bb"/>
<rect x="626.28" y="189.5" width="1" height="10.4" fill="#9fd6cf"/>
<rect x="625.63" y="191.9" width="2.3" height="7.3" fill="#2962FF"/>
<rect x="629.44" y="189.8" width="1" height="7.1" fill="#f07a84"/>
<rect x="628.79" y="191.9" width="2.3" height="3.6" fill="#F23645"/>
<rect x="632.59" y="197.7" width="1" height="5.8" fill="#f07a84"/>
<rect x="631.94" y="199.2" width="2.3" height="2.1" fill="#F23645"/>
<rect x="635.75" y="199.2" width="1" height="3.8" fill="#9fd6cf"/>
<rect x="635.10" y="200.5" width="2.3" height="1.0" fill="#7fc4bb"/>
<rect x="638.90" y="199.1" width="1" height="6.1" fill="#f07a84"/>
<rect x="638.25" y="201.0" width="2.3" height="1.8" fill="#F23645"/>
<rect x="642.06" y="198.7" width="1" height="6.2" fill="#9fd6cf"/>
<rect x="641.41" y="199.9" width="2.3" height="2.9" fill="#2962FF"/>
<rect x="645.21" y="194.3" width="1" height="7.4" fill="#9fd6cf"/>
<rect x="644.56" y="196.2" width="2.3" height="3.7" fill="#2962FF"/>
<rect x="648.37" y="194.9" width="1" height="8.3" fill="#f07a84"/>
<rect x="647.72" y="196.2" width="2.3" height="5.8" fill="#F23645"/>
<rect x="651.52" y="200.2" width="1" height="2.4" fill="#9fd6cf"/>
<rect x="650.88" y="200.8" width="2.3" height="1.0" fill="#7fc4bb"/>
<rect x="654.68" y="198.6" width="1" height="4.0" fill="#f07a84"/>
<rect x="654.03" y="199.2" width="2.3" height="1.4" fill="#F23645"/>
<rect x="657.83" y="196.0" width="1" height="6.8" fill="#9fd6cf"/>
<rect x="657.18" y="197.0" width="2.3" height="5.0" fill="#2962FF"/>
<rect x="660.99" y="193.3" width="1" height="5.9" fill="#9fd6cf"/>
<rect x="660.34" y="194.0" width="2.3" height="3.0" fill="#2962FF"/>
<rect x="664.14" y="191.8" width="1" height="5.6" fill="#f07a84"/>
<rect x="663.50" y="194.0" width="2.3" height="1.5" fill="#F23645"/>
<rect x="667.30" y="193.7" width="1" height="3.4" fill="#f07a84"/>
<rect x="666.65" y="194.8" width="2.3" height="1.4" fill="#F23645"/>
<rect x="670.45" y="194.6" width="1" height="5.4" fill="#f07a84"/>
<rect x="669.80" y="195.7" width="2.3" height="2.9" fill="#F23645"/>
<rect x="673.61" y="192.7" width="1" height="7.3" fill="#9fd6cf"/>
<rect x="672.96" y="193.5" width="2.3" height="5.1" fill="#2962FF"/>
<rect x="676.76" y="180.2" width="1" height="15.8" fill="#9fd6cf"/>
<rect x="676.12" y="181.2" width="2.3" height="12.3" fill="#2962FF"/>
<rect x="679.92" y="178.8" width="1" height="6.1" fill="#f07a84"/>
<rect x="679.27" y="181.2" width="2.3" height="2.1" fill="#F23645"/>
<rect x="683.07" y="182.3" width="1" height="7.8" fill="#f07a84"/>
<rect x="682.42" y="183.3" width="2.3" height="4.4" fill="#F23645"/>
<rect x="686.23" y="184.4" width="1" height="4.5" fill="#9fd6cf"/>
<rect x="685.58" y="185.5" width="2.3" height="2.2" fill="#2962FF"/>
<rect x="689.38" y="182.8" width="1" height="4.0" fill="#9fd6cf"/>
<rect x="688.74" y="183.3" width="2.3" height="2.2" fill="#2962FF"/>
<rect x="692.54" y="180.7" width="1" height="4.0" fill="#9fd6cf"/>
<rect x="691.89" y="182.1" width="2.3" height="1.0" fill="#7fc4bb"/>
<rect x="695.69" y="175.9" width="1" height="8.2" fill="#9fd6cf"/>
<rect x="695.04" y="176.8" width="2.3" height="5.8" fill="#2962FF"/>
<rect x="698.85" y="173.4" width="1" height="4.4" fill="#9fd6cf"/>
<rect x="698.20" y="173.9" width="2.3" height="2.9" fill="#2962FF"/>
<rect x="702.00" y="172.4" width="1" height="3.0" fill="#9fd6cf"/>
<rect x="701.36" y="173.1" width="2.3" height="1.0" fill="#7fc4bb"/>
<rect x="705.16" y="172.6" width="1" height="4.0" fill="#f07a84"/>
<rect x="704.51" y="173.2" width="2.3" height="2.9" fill="#F23645"/>
<rect x="708.31" y="174.2" width="1" height="10.8" fill="#f07a84"/>
<rect x="707.66" y="175.3" width="2.3" height="8.7" fill="#F23645"/>
<rect x="711.47" y="181.1" width="1" height="4.2" fill="#9fd6cf"/>
<rect x="710.82" y="182.8" width="2.3" height="1.0" fill="#7fc4bb"/>
<rect x="714.62" y="180.6" width="1" height="5.2" fill="#f07a84"/>
<rect x="713.98" y="182.6" width="2.3" height="1.4" fill="#F23645"/>
<rect x="717.78" y="181.4" width="1" height="13.0" fill="#f07a84"/>
<rect x="717.13" y="183.3" width="2.3" height="8.8" fill="#F23645"/>
<rect x="720.93" y="190.8" width="1" height="6.0" fill="#f07a84"/>
<rect x="720.28" y="192.1" width="2.3" height="3.6" fill="#F23645"/>
<rect x="724.09" y="190.3" width="1" height="6.2" fill="#9fd6cf"/>
<rect x="723.44" y="192.8" width="2.3" height="2.9" fill="#2962FF"/>
<rect x="727.25" y="188.0" width="1" height="6.6" fill="#9fd6cf"/>
<rect x="726.60" y="189.9" width="2.3" height="2.9" fill="#2962FF"/>
<rect x="730.40" y="185.7" width="1" height="6.4" fill="#9fd6cf"/>
<rect x="729.75" y="186.3" width="2.3" height="3.6" fill="#2962FF"/>
<rect x="733.55" y="182.7" width="1" height="5.0" fill="#9fd6cf"/>
<rect x="732.90" y="185.0" width="2.3" height="1.0" fill="#7fc4bb"/>
<rect x="736.71" y="180.6" width="1" height="7.0" fill="#9fd6cf"/>
<rect x="736.06" y="182.6" width="2.3" height="2.9" fill="#2962FF"/>
<rect x="739.87" y="180.6" width="1" height="3.3" fill="#9fd6cf"/>
<rect x="739.22" y="181.4" width="2.3" height="1.0" fill="#7fc4bb"/>
<rect x="743.02" y="180.4" width="1" height="9.5" fill="#f07a84"/>
<rect x="742.37" y="181.9" width="2.3" height="5.8" fill="#F23645"/>
<rect x="746.17" y="183.4" width="1" height="6.5" fill="#9fd6cf"/>
<rect x="745.52" y="185.5" width="2.3" height="2.2" fill="#2962FF"/>
<rect x="749.33" y="178.7" width="1" height="9.1" fill="#9fd6cf"/>
<rect x="748.68" y="180.4" width="2.3" height="5.1" fill="#2962FF"/>
<rect x="752.48" y="178.5" width="1" height="8.2" fill="#f07a84"/>
<rect x="751.83" y="180.4" width="2.3" height="4.4" fill="#F23645"/>
<rect x="755.64" y="183.3" width="1" height="2.5" fill="#9fd6cf"/>
<rect x="754.99" y="184.3" width="2.3" height="1.0" fill="#7fc4bb"/>
<rect x="758.79" y="182.7" width="1" height="3.0" fill="#9fd6cf"/>
<rect x="758.14" y="183.5" width="2.3" height="1.0" fill="#7fc4bb"/>
<rect x="761.95" y="184.1" width="1" height="8.0" fill="#f07a84"/>
<rect x="761.30" y="184.8" width="2.3" height="5.1" fill="#F23645"/>
<rect x="765.10" y="184.6" width="1" height="7.8" fill="#9fd6cf"/>
<rect x="764.45" y="186.2" width="2.3" height="4.4" fill="#2962FF"/>
<rect x="768.26" y="182.2" width="1" height="5.1" fill="#9fd6cf"/>
<rect x="767.61" y="184.0" width="2.3" height="1.5" fill="#2962FF"/>
<rect x="771.41" y="175.3" width="1" height="8.5" fill="#9fd6cf"/>
<rect x="770.76" y="176.8" width="2.3" height="6.5" fill="#2962FF"/>
<rect x="774.57" y="175.4" width="1" height="6.3" fill="#f07a84"/>
<rect x="773.92" y="177.5" width="2.3" height="2.2" fill="#F23645"/>
<rect x="777.72" y="177.7" width="1" height="4.1" fill="#9fd6cf"/>
<rect x="777.07" y="179.2" width="2.3" height="1.0" fill="#7fc4bb"/>
<rect x="780.88" y="176.7" width="1" height="3.7" fill="#f07a84"/>
<rect x="780.23" y="178.5" width="2.3" height="1.2" fill="#F23645"/>
<rect x="784.03" y="174.0" width="1" height="6.7" fill="#9fd6cf"/>
<rect x="783.38" y="176.0" width="2.3" height="3.7" fill="#2962FF"/>
<rect x="787.19" y="168.9" width="1" height="8.2" fill="#9fd6cf"/>
<rect x="786.54" y="169.5" width="2.3" height="6.5" fill="#2962FF"/>
<rect x="790.34" y="158.3" width="1" height="3.9" fill="#9fd6cf"/>
<rect x="789.69" y="160.3" width="2.3" height="1.0" fill="#7fc4bb"/>
<rect x="793.50" y="155.9" width="1" height="6.5" fill="#9fd6cf"/>
<rect x="792.85" y="157.9" width="2.3" height="2.1" fill="#2962FF"/>
<rect x="796.65" y="156.4" width="1" height="7.1" fill="#f07a84"/>
<rect x="796.00" y="157.9" width="2.3" height="4.3" fill="#F23645"/>
<rect x="799.81" y="157.8" width="1" height="6.2" fill="#9fd6cf"/>
<rect x="799.16" y="159.3" width="2.3" height="2.9" fill="#2962FF"/>
<rect x="802.96" y="153.7" width="1" height="7.4" fill="#9fd6cf"/>
<rect x="802.31" y="155.7" width="2.3" height="3.6" fill="#2962FF"/>
<rect x="806.12" y="153.9" width="1" height="6.0" fill="#f07a84"/>
<rect x="805.47" y="155.7" width="2.3" height="3.6" fill="#F23645"/>
<rect x="809.27" y="157.3" width="1" height="2.8" fill="#9fd6cf"/>
<rect x="808.62" y="158.1" width="2.3" height="1.0" fill="#7fc4bb"/>
<rect x="812.43" y="153.0" width="1" height="6.7" fill="#9fd6cf"/>
<rect x="811.78" y="155.0" width="2.3" height="3.6" fill="#2962FF"/>
<rect x="815.58" y="147.6" width="1" height="8.0" fill="#9fd6cf"/>
<rect x="814.93" y="149.2" width="2.3" height="5.8" fill="#2962FF"/>
<rect x="818.74" y="143.4" width="1" height="6.9" fill="#9fd6cf"/>
<rect x="818.09" y="144.0" width="2.3" height="5.2" fill="#2962FF"/>
<rect x="821.89" y="142.2" width="1" height="5.9" fill="#f07a84"/>
<rect x="821.25" y="144.0" width="2.3" height="2.2" fill="#F23645"/>
<rect x="825.05" y="143.0" width="1" height="13.5" fill="#f07a84"/>
<rect x="824.40" y="145.5" width="2.3" height="7.3" fill="#F23645"/>
<rect x="828.20" y="150.1" width="1" height="3.9" fill="#9fd6cf"/>
<rect x="827.55" y="152.0" width="2.3" height="1.0" fill="#7fc4bb"/>
<rect x="831.36" y="139.7" width="1" height="14.6" fill="#9fd6cf"/>
<rect x="830.71" y="141.2" width="2.3" height="11.6" fill="#2962FF"/>
<rect x="834.51" y="131.0" width="1" height="11.0" fill="#9fd6cf"/>
<rect x="833.87" y="132.4" width="2.3" height="8.8" fill="#2962FF"/>
<rect x="837.67" y="130.1" width="1" height="5.0" fill="#f07a84"/>
<rect x="837.02" y="132.4" width="2.3" height="1.8" fill="#F23645"/>
<rect x="840.82" y="129.9" width="1" height="6.6" fill="#f07a84"/>
<rect x="840.17" y="132.4" width="2.3" height="1.8" fill="#F23645"/>
<rect x="843.98" y="122.5" width="1" height="13.0" fill="#9fd6cf"/>
<rect x="843.33" y="123.0" width="2.3" height="11.0" fill="#2962FF"/>
<rect x="847.13" y="113.9" width="1" height="11.6" fill="#9fd6cf"/>
<rect x="846.49" y="116.0" width="2.3" height="7.0" fill="#2962FF"/>
<rect x="850.29" y="105.6" width="1" height="11.4" fill="#9fd6cf"/>
<rect x="849.64" y="107.0" width="2.3" height="9.0" fill="#2962FF"/>
<rect x="853.44" y="105.0" width="1" height="12.0" fill="#f07a84"/>
<rect x="852.79" y="108.0" width="2.3" height="2.0" fill="#F23645"/>
<rect x="856.60" y="104.1" width="1" height="8.3" fill="#9fd6cf"/>
<rect x="855.95" y="105.0" width="2.3" height="5.0" fill="#2962FF"/>
<rect x="859.75" y="98.0" width="1" height="18.0" fill="#f07a84"/>
<rect x="859.11" y="105.0" width="2.3" height="3.0" fill="#F23645"/>
<rect x="862.91" y="98.1" width="1" height="11.6" fill="#9fd6cf"/>
<rect x="862.26" y="99.0" width="2.3" height="9.0" fill="#2962FF"/>
<rect x="866.06" y="92.2" width="1" height="8.3" fill="#9fd6cf"/>
<rect x="865.41" y="93.0" width="2.3" height="6.0" fill="#2962FF"/>
<rect x="869.22" y="91.6" width="1" height="9.2" fill="#f07a84"/>
<rect x="868.57" y="94.0" width="2.3" height="6.0" fill="#F23645"/>
<rect x="872.38" y="88.9" width="1" height="12.7" fill="#9fd6cf"/>
<rect x="871.73" y="91.0" width="2.3" height="9.0" fill="#2962FF"/>
<rect x="875.53" y="71.0" width="1" height="19.0" fill="#9fd6cf"/>
<rect x="874.88" y="88.5" width="2.3" height="2.7" fill="#2962FF"/>
<rect x="878.68" y="72.0" width="1" height="18.0" fill="#9fd6cf"/>
<rect x="878.03" y="80.0" width="2.3" height="9.0" fill="#2962FF"/>
<rect x="881.84" y="58.7" width="1" height="23.2" fill="#9fd6cf"/>
<rect x="881.19" y="61.0" width="2.3" height="19.0" fill="#2962FF"/>
<rect x="884.99" y="50.0" width="1" height="27.0" fill="#f07a84"/>
<rect x="884.34" y="61.0" width="2.3" height="8.0" fill="#F23645"/>
<rect x="888.15" y="54.0" width="1" height="17.3" fill="#9fd6cf"/>
<rect x="887.50" y="55.0" width="2.3" height="14.0" fill="#2962FF"/>
<rect x="891.30" y="44.5" width="1" height="11.0" fill="#9fd6cf"/>
<rect x="890.65" y="46.0" width="2.3" height="9.0" fill="#2962FF"/>
<rect x="894.46" y="42.3" width="1" height="33.1" fill="#f07a84"/>
<rect x="893.81" y="44.3" width="2.3" height="20.5" fill="#F23645"/>
<line x1="5.5" y1="65.4" x2="912" y2="65.4" stroke="#F23645" stroke-width="0.9" stroke-dasharray="0.9 0.9" stroke-opacity="0.45"/>
</g>
<text x="9.8" y="25.4" font-size="6.7" fill="#3B3F4A" stroke="#3B3F4A" stroke-width="0.14" textLength="110.3" lengthAdjust="spacingAndGlyphs">CFDs on Silver (US$ / OZ) · 1D · TVC</text>
<text x="124.0" y="25.4" font-size="6.7" fill="#3B3F4A" stroke="#3B3F4A" stroke-width="0.14" textLength="30.9" lengthAdjust="spacingAndGlyphs">O<tspan fill="#F23645" stroke="#F23645">54.2290</tspan></text>
<text x="158.8" y="25.4" font-size="6.7" fill="#3B3F4A" stroke="#3B3F4A" stroke-width="0.14" textLength="30.2" lengthAdjust="spacingAndGlyphs">H<tspan fill="#F23645" stroke="#F23645">54.4680</tspan></text>
<text x="192.9" y="25.4" font-size="6.7" fill="#3B3F4A" stroke="#3B3F4A" stroke-width="0.14" textLength="29.2" lengthAdjust="spacingAndGlyphs">L<tspan fill="#F23645" stroke="#F23645">50.6383</tspan></text>
<text x="226.8" y="25.4" font-size="6.7" fill="#3B3F4A" stroke="#3B3F4A" stroke-width="0.14" textLength="27.5" lengthAdjust="spacingAndGlyphs">C<tspan fill="#F23645" stroke="#F23645">51.8610</tspan></text>
<text x="258.9" y="25.4" font-size="6.7" fill="#3B3F4A" stroke="#3B3F4A" stroke-width="0.14" textLength="12.9" lengthAdjust="spacingAndGlyphs">Vol<tspan fill="#F23645" stroke="#F23645">0</tspan></text>
<text x="9.7" y="34.7" font-size="6.7" fill="#3B3F4A" stroke="#3B3F4A" stroke-width="0.14" textLength="47.9" lengthAdjust="spacingAndGlyphs">EMA (50, close)</text>
<text x="62.0" y="34.7" font-size="6.7" fill="#131722" stroke="#131722" stroke-width="0.14" textLength="25.9" lengthAdjust="spacingAndGlyphs">44.6249</text>
<text x="9.7" y="43.8" font-size="6.7" fill="#3B3F4A" stroke="#3B3F4A" stroke-width="0.14" textLength="50.2" lengthAdjust="spacingAndGlyphs">EMA (100, close)</text>
<text x="65.0" y="43.8" font-size="6.7" fill="#E91E63" stroke="#E91E63" stroke-width="0.14" textLength="23.8" lengthAdjust="spacingAndGlyphs">41.1495</text>
<text x="9.7" y="52.9" font-size="6.7" fill="#3B3F4A" stroke="#3B3F4A" stroke-width="0.14" textLength="55.3" lengthAdjust="spacingAndGlyphs">Supertrend (10, 3)</text>
<text x="68.8" y="52.9" font-size="6.7" fill="#4CAF50" stroke="#4CAF50" stroke-width="0.14" textLength="24.2" lengthAdjust="spacingAndGlyphs">48.1189</text>
<text x="97.0" y="52.9" font-size="6.7" fill="#3B3F4A" stroke="#3B3F4A" stroke-width="0.14" textLength="4" lengthAdjust="spacingAndGlyphs">⌀</text>
<rect x="914.3" y="16.7" width="42" height="13.8" rx="3" fill="#fff" stroke="#EEF0F3" stroke-width="0.8"/>
<text x="919.5" y="26" font-size="6.5" fill="#131722">USD</text>
<text x="918.4" y="67.0" font-size="9.0" fill="#363A45" stroke="#363A45" stroke-width="0.14" textLength="33.2" lengthAdjust="spacingAndGlyphs">52.0000</text>
<text x="918.4" y="101.6" font-size="9.0" fill="#363A45" stroke="#363A45" stroke-width="0.14" textLength="33.2" lengthAdjust="spacingAndGlyphs">48.0000</text>
<text x="918.4" y="136.1" font-size="9.0" fill="#363A45" stroke="#363A45" stroke-width="0.14" textLength="33.2" lengthAdjust="spacingAndGlyphs">44.0000</text>
<text x="918.4" y="170.7" font-size="9.0" fill="#363A45" stroke="#363A45" stroke-width="0.14" textLength="33.2" lengthAdjust="spacingAndGlyphs">40.0000</text>
<text x="918.4" y="205.2" font-size="9.0" fill="#363A45" stroke="#363A45" stroke-width="0.14" textLength="33.2" lengthAdjust="spacingAndGlyphs">36.0000</text>
<text x="918.4" y="239.8" font-size="9.0" fill="#363A45" stroke="#363A45" stroke-width="0.14" textLength="33.2" lengthAdjust="spacingAndGlyphs">32.0000</text>
<text x="918.4" y="274.4" font-size="9.0" fill="#363A45" stroke="#363A45" stroke-width="0.14" textLength="33.2" lengthAdjust="spacingAndGlyphs">28.0000</text>
<text x="10.0" y="308.8" font-size="6.7" fill="#3B3F4A" stroke="#3B3F4A" stroke-width="0.14" textLength="63" lengthAdjust="spacingAndGlyphs">MACD (12, 26, close)</text>
<text x="78.0" y="308.8" font-size="6.7" fill="#A8DAD3" stroke="#A8DAD3" stroke-width="0.14" textLength="20.8" lengthAdjust="spacingAndGlyphs">0.3079</text>
<text x="102.6" y="308.8" font-size="6.7" fill="#2962FF" stroke="#2962FF" stroke-width="0.14" textLength="21.1" lengthAdjust="spacingAndGlyphs">2.7900</text>
<text x="127.8" y="308.8" font-size="6.7" fill="#FF6D00" stroke="#FF6D00" stroke-width="0.14" textLength="21.6" lengthAdjust="spacingAndGlyphs">2.4820</text>
<line x1="5.5" y1="376.3" x2="912" y2="376.3" stroke="#B2B5BE" stroke-width="0.8" stroke-dasharray="2.5 3.5" stroke-opacity="0.7"/>
<g clip-path="url(#plot)">
<rect x="4.05" y="376.3" width="2.4" height="0.8" fill="#FF5252"/>
<rect x="7.20" y="376.3" width="2.4" height="1.1" fill="#FF5252"/>
<rect x="10.36" y="376.3" width="2.4" height="1.4" fill="#FF5252"/>
<rect x="13.52" y="376.3" width="2.4" height="1.7" fill="#FF5252"/>
<rect x="16.67" y="376.3" width="2.4" height="2.2" fill="#FF5252"/>
<rect x="19.82" y="376.3" width="2.4" height="1.5" fill="#FFCDD2"/>
<rect x="22.98" y="376.2" width="2.4" height="0.1" fill="#26A69A"/>
<rect x="26.13" y="374.1" width="2.4" height="2.2" fill="#26A69A"/>
<rect x="29.29" y="372.5" width="2.4" height="3.8" fill="#26A69A"/>
<rect x="32.44" y="371.5" width="2.4" height="4.8" fill="#26A69A"/>
<rect x="35.60" y="371.9" width="2.4" height="4.4" fill="#B2DFDB"/>
<rect x="38.75" y="372.2" width="2.4" height="4.1" fill="#B2DFDB"/>
<rect x="41.91" y="372.3" width="2.4" height="4.0" fill="#B2DFDB"/>
<rect x="45.06" y="372.4" width="2.4" height="3.9" fill="#B2DFDB"/>
<rect x="48.22" y="371.6" width="2.4" height="4.7" fill="#26A69A"/>
<rect x="51.37" y="370.8" width="2.4" height="5.5" fill="#26A69A"/>
<rect x="54.53" y="370.9" width="2.4" height="5.4" fill="#B2DFDB"/>
<rect x="57.68" y="371.4" width="2.4" height="4.9" fill="#B2DFDB"/>
<rect x="60.84" y="373.1" width="2.4" height="3.2" fill="#B2DFDB"/>
<rect x="63.99" y="374.3" width="2.4" height="2.0" fill="#B2DFDB"/>
<rect x="67.15" y="374.5" width="2.4" height="1.8" fill="#B2DFDB"/>
<rect x="70.30" y="374.7" width="2.4" height="1.6" fill="#B2DFDB"/>
<rect x="73.46" y="374.8" width="2.4" height="1.5" fill="#B2DFDB"/>
<rect x="76.61" y="376.3" width="2.4" height="0.7" fill="#FF5252"/>
<rect x="79.77" y="376.3" width="2.4" height="1.6" fill="#FF5252"/>
<rect x="82.92" y="376.3" width="2.4" height="2.4" fill="#FF5252"/>
<rect x="86.08" y="376.3" width="2.4" height="3.1" fill="#FF5252"/>
<rect x="89.23" y="376.3" width="2.4" height="3.1" fill="#FFCDD2"/>
<rect x="92.39" y="376.3" width="2.4" height="3.0" fill="#FFCDD2"/>
<rect x="95.54" y="376.3" width="2.4" height="2.4" fill="#FFCDD2"/>
<rect x="98.70" y="376.3" width="2.4" height="1.8" fill="#FFCDD2"/>
<rect x="101.85" y="376.3" width="2.4" height="0.9" fill="#FFCDD2"/>
<rect x="105.01" y="374.9" width="2.4" height="1.4" fill="#26A69A"/>
<rect x="108.16" y="372.7" width="2.4" height="3.6" fill="#26A69A"/>
<rect x="111.32" y="371.2" width="2.4" height="5.1" fill="#26A69A"/>
<rect x="114.47" y="371.2" width="2.4" height="5.1" fill="#B2DFDB"/>
<rect x="117.63" y="371.9" width="2.4" height="4.4" fill="#B2DFDB"/>
<rect x="120.78" y="372.5" width="2.4" height="3.8" fill="#B2DFDB"/>
<rect x="123.94" y="372.9" width="2.4" height="3.4" fill="#B2DFDB"/>
<rect x="127.09" y="373.4" width="2.4" height="2.9" fill="#B2DFDB"/>
<rect x="130.25" y="375.1" width="2.4" height="1.2" fill="#B2DFDB"/>
<rect x="133.41" y="376.3" width="2.4" height="0.1" fill="#FF5252"/>
<rect x="136.56" y="376.3" width="2.4" height="1.9" fill="#FF5252"/>
<rect x="139.72" y="376.3" width="2.4" height="3.5" fill="#FF5252"/>
<rect x="142.87" y="376.3" width="2.4" height="5.0" fill="#FF5252"/>
<rect x="146.03" y="376.3" width="2.4" height="6.4" fill="#FF5252"/>
<rect x="149.18" y="376.3" width="2.4" height="7.3" fill="#FF5252"/>
<rect x="152.34" y="376.3" width="2.4" height="7.7" fill="#FF5252"/>
<rect x="155.49" y="376.3" width="2.4" height="8.1" fill="#FF5252"/>
<rect x="158.65" y="376.3" width="2.4" height="8.5" fill="#FF5252"/>
<rect x="161.80" y="376.3" width="2.4" height="8.6" fill="#FF5252"/>
<rect x="164.96" y="376.3" width="2.4" height="8.2" fill="#FFCDD2"/>
<rect x="168.11" y="376.3" width="2.4" height="8.1" fill="#FFCDD2"/>
<rect x="171.27" y="376.3" width="2.4" height="6.1" fill="#FFCDD2"/>
<rect x="174.42" y="376.3" width="2.4" height="4.4" fill="#FFCDD2"/>
<rect x="177.57" y="376.3" width="2.4" height="3.7" fill="#FFCDD2"/>
<rect x="180.73" y="376.3" width="2.4" height="2.9" fill="#FFCDD2"/>
<rect x="183.88" y="376.3" width="2.4" height="2.3" fill="#FFCDD2"/>
<rect x="187.04" y="376.3" width="2.4" height="2.4" fill="#FF5252"/>
<rect x="190.19" y="376.3" width="2.4" height="2.4" fill="#FF5252"/>
<rect x="193.35" y="376.3" width="2.4" height="2.4" fill="#FF5252"/>
<rect x="196.50" y="376.3" width="2.4" height="1.6" fill="#FFCDD2"/>
<rect x="199.66" y="376.3" width="2.4" height="1.2" fill="#FFCDD2"/>
<rect x="202.81" y="376.3" width="2.4" height="0.2" fill="#FFCDD2"/>
<rect x="205.97" y="375.4" width="2.4" height="0.9" fill="#26A69A"/>
<rect x="209.12" y="374.8" width="2.4" height="1.5" fill="#26A69A"/>
<rect x="212.28" y="374.4" width="2.4" height="1.9" fill="#26A69A"/>
<rect x="215.44" y="373.8" width="2.4" height="2.5" fill="#26A69A"/>
<rect x="218.59" y="373.1" width="2.4" height="3.2" fill="#26A69A"/>
<rect x="221.75" y="372.5" width="2.4" height="3.8" fill="#26A69A"/>
<rect x="224.90" y="373.9" width="2.4" height="2.4" fill="#B2DFDB"/>
<rect x="228.06" y="375.4" width="2.4" height="0.9" fill="#B2DFDB"/>
<rect x="231.21" y="376.0" width="2.4" height="0.3" fill="#B2DFDB"/>
<rect x="234.37" y="376.3" width="2.4" height="0.3" fill="#FF5252"/>
<rect x="237.52" y="376.3" width="2.4" height="1.5" fill="#FF5252"/>
<rect x="240.67" y="376.3" width="2.4" height="2.4" fill="#FF5252"/>
<rect x="243.83" y="376.3" width="2.4" height="2.4" fill="#FF5252"/>
<rect x="246.98" y="376.3" width="2.4" height="2.2" fill="#FFCDD2"/>
<rect x="250.14" y="376.3" width="2.4" height="2.4" fill="#FF5252"/>
<rect x="253.29" y="376.3" width="2.4" height="2.5" fill="#FF5252"/>
<rect x="256.45" y="376.3" width="2.4" height="2.6" fill="#FF5252"/>
<rect x="259.60" y="376.3" width="2.4" height="2.9" fill="#FF5252"/>
<rect x="262.76" y="376.3" width="2.4" height="3.2" fill="#FF5252"/>
<rect x="265.92" y="376.3" width="2.4" height="2.1" fill="#FFCDD2"/>
<rect x="269.07" y="376.3" width="2.4" height="1.0" fill="#FFCDD2"/>
<rect x="272.23" y="376.2" width="2.4" height="0.1" fill="#26A69A"/>
<rect x="275.38" y="375.5" width="2.4" height="0.8" fill="#26A69A"/>
<rect x="278.53" y="375.1" width="2.4" height="1.2" fill="#26A69A"/>
<rect x="281.69" y="374.7" width="2.4" height="1.6" fill="#26A69A"/>
<rect x="284.84" y="374.4" width="2.4" height="1.9" fill="#26A69A"/>
<rect x="288.00" y="374.6" width="2.4" height="1.7" fill="#B2DFDB"/>
<rect x="291.15" y="375.0" width="2.4" height="1.3" fill="#B2DFDB"/>
<rect x="294.31" y="374.1" width="2.4" height="2.2" fill="#26A69A"/>
<rect x="297.46" y="372.8" width="2.4" height="3.5" fill="#26A69A"/>
<rect x="300.62" y="372.2" width="2.4" height="4.1" fill="#26A69A"/>
<rect x="303.77" y="372.1" width="2.4" height="4.2" fill="#26A69A"/>
<rect x="306.93" y="372.5" width="2.4" height="3.8" fill="#B2DFDB"/>
<rect x="310.08" y="373.3" width="2.4" height="3.0" fill="#B2DFDB"/>
<rect x="313.24" y="373.9" width="2.4" height="2.4" fill="#B2DFDB"/>
<rect x="316.39" y="374.5" width="2.4" height="1.8" fill="#B2DFDB"/>
<rect x="319.55" y="375.0" width="2.4" height="1.3" fill="#B2DFDB"/>
<rect x="322.70" y="375.4" width="2.4" height="0.9" fill="#B2DFDB"/>
<rect x="325.86" y="374.8" width="2.4" height="1.5" fill="#26A69A"/>
<rect x="329.01" y="374.1" width="2.4" height="2.2" fill="#26A69A"/>
<rect x="332.17" y="373.4" width="2.4" height="2.9" fill="#26A69A"/>
<rect x="335.32" y="372.7" width="2.4" height="3.6" fill="#26A69A"/>
<rect x="338.48" y="372.0" width="2.4" height="4.3" fill="#26A69A"/>
<rect x="341.63" y="371.6" width="2.4" height="4.7" fill="#26A69A"/>
<rect x="344.79" y="372.3" width="2.4" height="4.0" fill="#B2DFDB"/>
<rect x="347.94" y="373.1" width="2.4" height="3.2" fill="#B2DFDB"/>
<rect x="351.10" y="373.9" width="2.4" height="2.4" fill="#B2DFDB"/>
<rect x="354.25" y="374.4" width="2.4" height="1.9" fill="#B2DFDB"/>
<rect x="357.41" y="374.6" width="2.4" height="1.7" fill="#B2DFDB"/>
<rect x="360.56" y="374.7" width="2.4" height="1.6" fill="#B2DFDB"/>
<rect x="363.72" y="374.6" width="2.4" height="1.7" fill="#26A69A"/>
<rect x="366.88" y="374.5" width="2.4" height="1.8" fill="#26A69A"/>
<rect x="370.03" y="374.3" width="2.4" height="2.0" fill="#26A69A"/>
<rect x="373.19" y="375.6" width="2.4" height="0.7" fill="#B2DFDB"/>
<rect x="376.34" y="376.0" width="2.4" height="0.3" fill="#B2DFDB"/>
<rect x="379.50" y="376.3" width="2.4" height="0.7" fill="#FF5252"/>
<rect x="382.65" y="376.3" width="2.4" height="1.7" fill="#FF5252"/>
<rect x="385.81" y="376.3" width="2.4" height="2.7" fill="#FF5252"/>
<rect x="388.96" y="376.3" width="2.4" height="3.6" fill="#FF5252"/>
<rect x="392.12" y="376.3" width="2.4" height="4.5" fill="#FF5252"/>
<rect x="395.27" y="376.3" width="2.4" height="2.8" fill="#FFCDD2"/>
<rect x="398.43" y="376.3" width="2.4" height="1.8" fill="#FFCDD2"/>
<rect x="401.58" y="376.3" width="2.4" height="1.1" fill="#FFCDD2"/>
<rect x="404.74" y="376.3" width="2.4" height="0.7" fill="#FFCDD2"/>
<rect x="407.89" y="376.3" width="2.4" height="0.3" fill="#FFCDD2"/>
<rect x="411.04" y="376.3" width="2.4" height="0.2" fill="#FFCDD2"/>
<rect x="414.20" y="376.3" width="2.4" height="0.1" fill="#FFCDD2"/>
<rect x="417.35" y="375.5" width="2.4" height="0.8" fill="#26A69A"/>
<rect x="420.51" y="374.7" width="2.4" height="1.6" fill="#26A69A"/>
<rect x="423.66" y="374.2" width="2.4" height="2.1" fill="#26A69A"/>
<rect x="426.82" y="373.8" width="2.4" height="2.5" fill="#26A69A"/>
<rect x="429.97" y="373.6" width="2.4" height="2.7" fill="#26A69A"/>
<rect x="433.13" y="374.6" width="2.4" height="1.7" fill="#B2DFDB"/>
<rect x="436.28" y="376.1" width="2.4" height="0.2" fill="#B2DFDB"/>
<rect x="439.44" y="376.3" width="2.4" height="0.7" fill="#FF5252"/>
<rect x="442.59" y="376.3" width="2.4" height="0.3" fill="#FFCDD2"/>
<rect x="445.75" y="376.3" width="2.4" height="0.0" fill="#FFCDD2"/>
<rect x="448.90" y="376.0" width="2.4" height="0.3" fill="#26A69A"/>
<rect x="452.06" y="375.9" width="2.4" height="0.4" fill="#26A69A"/>
<rect x="455.21" y="375.8" width="2.4" height="0.5" fill="#26A69A"/>
<rect x="458.37" y="375.8" width="2.4" height="0.5" fill="#26A69A"/>
<rect x="461.52" y="376.1" width="2.4" height="0.2" fill="#B2DFDB"/>
<rect x="464.68" y="376.1" width="2.4" height="0.2" fill="#26A69A"/>
<rect x="467.83" y="376.3" width="2.4" height="5.0" fill="#FF5252"/>
<rect x="470.99" y="376.3" width="2.4" height="7.8" fill="#FF5252"/>
<rect x="474.14" y="376.3" width="2.4" height="10.7" fill="#FF5252"/>
<rect x="477.30" y="376.3" width="2.4" height="10.0" fill="#FFCDD2"/>
<rect x="480.45" y="376.3" width="2.4" height="9.2" fill="#FFCDD2"/>
<rect x="483.61" y="376.3" width="2.4" height="7.0" fill="#FFCDD2"/>
<rect x="486.76" y="376.3" width="2.4" height="4.4" fill="#FFCDD2"/>
<rect x="489.92" y="376.3" width="2.4" height="3.0" fill="#FFCDD2"/>
<rect x="493.07" y="376.3" width="2.4" height="1.6" fill="#FFCDD2"/>
<rect x="496.23" y="376.3" width="2.4" height="0.7" fill="#FFCDD2"/>
<rect x="499.38" y="376.3" width="2.4" height="0.4" fill="#FFCDD2"/>
<rect x="502.54" y="376.0" width="2.4" height="0.3" fill="#26A69A"/>
<rect x="505.69" y="375.0" width="2.4" height="1.3" fill="#26A69A"/>
<rect x="508.85" y="373.8" width="2.4" height="2.5" fill="#26A69A"/>
<rect x="512.00" y="373.2" width="2.4" height="3.1" fill="#26A69A"/>
<rect x="515.16" y="372.7" width="2.4" height="3.6" fill="#26A69A"/>
<rect x="518.31" y="373.8" width="2.4" height="2.5" fill="#B2DFDB"/>
<rect x="521.47" y="375.2" width="2.4" height="1.1" fill="#B2DFDB"/>
<rect x="524.62" y="375.9" width="2.4" height="0.4" fill="#B2DFDB"/>
<rect x="527.78" y="376.2" width="2.4" height="0.1" fill="#B2DFDB"/>
<rect x="530.93" y="376.3" width="2.4" height="0.1" fill="#FF5252"/>
<rect x="534.09" y="376.3" width="2.4" height="0.1" fill="#FF5252"/>
<rect x="537.24" y="376.3" width="2.4" height="0.1" fill="#FF5252"/>
<rect x="540.40" y="376.3" width="2.4" height="0.2" fill="#FF5252"/>
<rect x="543.55" y="376.3" width="2.4" height="0.2" fill="#FF5252"/>
<rect x="546.71" y="376.3" width="2.4" height="0.2" fill="#FF5252"/>
<rect x="549.86" y="376.3" width="2.4" height="0.3" fill="#FF5252"/>
<rect x="553.02" y="376.3" width="2.4" height="0.2" fill="#FFCDD2"/>
<rect x="556.17" y="376.3" width="2.4" height="0.1" fill="#FFCDD2"/>
<rect x="559.33" y="376.3" width="2.4" height="0.0" fill="#FFCDD2"/>
<rect x="562.48" y="376.3" width="2.4" height="0.0" fill="#FFCDD2"/>
<rect x="565.64" y="375.8" width="2.4" height="0.5" fill="#26A69A"/>
<rect x="568.79" y="375.1" width="2.4" height="1.2" fill="#26A69A"/>
<rect x="571.95" y="374.4" width="2.4" height="1.9" fill="#26A69A"/>
<rect x="575.10" y="374.0" width="2.4" height="2.3" fill="#26A69A"/>
<rect x="578.26" y="373.9" width="2.4" height="2.4" fill="#26A69A"/>
<rect x="581.41" y="373.9" width="2.4" height="2.4" fill="#26A69A"/>
<rect x="584.57" y="373.7" width="2.4" height="2.6" fill="#26A69A"/>
<rect x="587.72" y="373.5" width="2.4" height="2.8" fill="#26A69A"/>
<rect x="590.88" y="373.2" width="2.4" height="3.1" fill="#26A69A"/>
<rect x="594.03" y="372.0" width="2.4" height="4.3" fill="#26A69A"/>
<rect x="597.19" y="370.3" width="2.4" height="6.0" fill="#26A69A"/>
<rect x="600.34" y="369.4" width="2.4" height="6.9" fill="#26A69A"/>
<rect x="603.50" y="368.5" width="2.4" height="7.8" fill="#26A69A"/>
<rect x="606.65" y="367.6" width="2.4" height="8.7" fill="#26A69A"/>
<rect x="609.81" y="367.2" width="2.4" height="9.1" fill="#26A69A"/>
<rect x="612.96" y="368.0" width="2.4" height="8.3" fill="#B2DFDB"/>
<rect x="616.12" y="368.8" width="2.4" height="7.5" fill="#B2DFDB"/>
<rect x="619.27" y="369.8" width="2.4" height="6.5" fill="#B2DFDB"/>
<rect x="622.43" y="370.7" width="2.4" height="5.6" fill="#B2DFDB"/>
<rect x="625.58" y="371.3" width="2.4" height="5.0" fill="#B2DFDB"/>
<rect x="628.74" y="373.3" width="2.4" height="3.0" fill="#B2DFDB"/>
<rect x="631.89" y="375.2" width="2.4" height="1.1" fill="#B2DFDB"/>
<rect x="635.05" y="376.2" width="2.4" height="0.1" fill="#B2DFDB"/>
<rect x="638.20" y="376.3" width="2.4" height="0.8" fill="#FF5252"/>
<rect x="641.36" y="376.3" width="2.4" height="1.8" fill="#FF5252"/>
<rect x="644.51" y="376.3" width="2.4" height="2.1" fill="#FF5252"/>
<rect x="647.67" y="376.3" width="2.4" height="2.3" fill="#FF5252"/>
<rect x="650.82" y="376.3" width="2.4" height="2.7" fill="#FF5252"/>
<rect x="653.98" y="376.3" width="2.4" height="3.2" fill="#FF5252"/>
<rect x="657.13" y="376.3" width="2.4" height="2.9" fill="#FFCDD2"/>
<rect x="660.29" y="376.3" width="2.4" height="2.2" fill="#FFCDD2"/>
<rect x="663.44" y="376.3" width="2.4" height="2.0" fill="#FFCDD2"/>
<rect x="666.60" y="376.3" width="2.4" height="2.0" fill="#FF5252"/>
<rect x="669.75" y="376.3" width="2.4" height="2.1" fill="#FF5252"/>
<rect x="672.91" y="376.3" width="2.4" height="1.5" fill="#FFCDD2"/>
<rect x="676.06" y="376.2" width="2.4" height="0.1" fill="#26A69A"/>
<rect x="679.22" y="375.2" width="2.4" height="1.1" fill="#26A69A"/>
<rect x="682.37" y="375.2" width="2.4" height="1.1" fill="#26A69A"/>
<rect x="685.53" y="375.2" width="2.4" height="1.1" fill="#26A69A"/>
<rect x="688.68" y="375.2" width="2.4" height="1.1" fill="#26A69A"/>
<rect x="691.84" y="375.2" width="2.4" height="1.1" fill="#26A69A"/>
<rect x="694.99" y="374.5" width="2.4" height="1.8" fill="#26A69A"/>
<rect x="698.15" y="373.7" width="2.4" height="2.6" fill="#26A69A"/>
<rect x="701.30" y="373.6" width="2.4" height="2.7" fill="#26A69A"/>
<rect x="704.46" y="374.3" width="2.4" height="2.0" fill="#B2DFDB"/>
<rect x="707.61" y="376.3" width="2.4" height="0.1" fill="#FF5252"/>
<rect x="710.77" y="376.3" width="2.4" height="0.9" fill="#FF5252"/>
<rect x="713.92" y="376.3" width="2.4" height="1.6" fill="#FF5252"/>
<rect x="717.08" y="376.3" width="2.4" height="3.9" fill="#FF5252"/>
<rect x="720.23" y="376.3" width="2.4" height="6.3" fill="#FF5252"/>
<rect x="723.39" y="376.3" width="2.4" height="7.7" fill="#FF5252"/>
<rect x="726.54" y="376.3" width="2.4" height="6.8" fill="#FFCDD2"/>
<rect x="729.70" y="376.3" width="2.4" height="5.9" fill="#FFCDD2"/>
<rect x="732.85" y="376.3" width="2.4" height="4.8" fill="#FFCDD2"/>
<rect x="736.01" y="376.3" width="2.4" height="3.6" fill="#FFCDD2"/>
<rect x="739.16" y="376.3" width="2.4" height="2.4" fill="#FFCDD2"/>
<rect x="742.32" y="376.3" width="2.4" height="1.7" fill="#FFCDD2"/>
<rect x="745.47" y="376.3" width="2.4" height="1.3" fill="#FFCDD2"/>
<rect x="748.63" y="376.3" width="2.4" height="0.8" fill="#FFCDD2"/>
<rect x="751.78" y="376.3" width="2.4" height="1.0" fill="#FF5252"/>
<rect x="754.94" y="376.3" width="2.4" height="1.2" fill="#FF5252"/>
<rect x="758.09" y="376.3" width="2.4" height="1.5" fill="#FF5252"/>
<rect x="761.25" y="376.3" width="2.4" height="2.0" fill="#FF5252"/>
<rect x="764.40" y="376.3" width="2.4" height="2.0" fill="#FFCDD2"/>
<rect x="767.56" y="376.3" width="2.4" height="1.8" fill="#FFCDD2"/>
<rect x="770.71" y="376.3" width="2.4" height="1.1" fill="#FFCDD2"/>
<rect x="773.87" y="376.3" width="2.4" height="0.4" fill="#FFCDD2"/>
<rect x="777.02" y="376.3" width="2.4" height="0.1" fill="#FFCDD2"/>
<rect x="780.18" y="376.2" width="2.4" height="0.1" fill="#26A69A"/>
<rect x="783.33" y="375.4" width="2.4" height="0.9" fill="#26A69A"/>
<rect x="786.49" y="374.8" width="2.4" height="1.5" fill="#26A69A"/>
<rect x="789.64" y="372.7" width="2.4" height="3.6" fill="#26A69A"/>
<rect x="792.80" y="370.7" width="2.4" height="5.6" fill="#26A69A"/>
<rect x="795.95" y="370.3" width="2.4" height="6.0" fill="#26A69A"/>
<rect x="799.11" y="370.3" width="2.4" height="6.0" fill="#B2DFDB"/>
<rect x="802.26" y="370.6" width="2.4" height="5.7" fill="#B2DFDB"/>
<rect x="805.42" y="371.2" width="2.4" height="5.1" fill="#B2DFDB"/>
<rect x="808.57" y="371.8" width="2.4" height="4.5" fill="#B2DFDB"/>
<rect x="811.73" y="371.6" width="2.4" height="4.7" fill="#26A69A"/>
<rect x="814.88" y="371.2" width="2.4" height="5.1" fill="#26A69A"/>
<rect x="818.04" y="370.8" width="2.4" height="5.5" fill="#26A69A"/>
<rect x="821.19" y="371.6" width="2.4" height="4.7" fill="#B2DFDB"/>
<rect x="824.35" y="373.5" width="2.4" height="2.8" fill="#B2DFDB"/>
<rect x="827.50" y="375.3" width="2.4" height="1.0" fill="#B2DFDB"/>
<rect x="830.66" y="375.0" width="2.4" height="1.3" fill="#26A69A"/>
<rect x="833.81" y="374.0" width="2.4" height="2.3" fill="#26A69A"/>
<rect x="836.97" y="373.3" width="2.4" height="3.0" fill="#26A69A"/>
<rect x="840.12" y="373.4" width="2.4" height="2.9" fill="#B2DFDB"/>
<rect x="843.28" y="372.7" width="2.4" height="3.6" fill="#26A69A"/>
<rect x="846.43" y="370.9" width="2.4" height="5.4" fill="#26A69A"/>
<rect x="849.59" y="369.4" width="2.4" height="6.9" fill="#26A69A"/>
<rect x="852.74" y="369.0" width="2.4" height="7.3" fill="#26A69A"/>
<rect x="855.90" y="369.2" width="2.4" height="7.1" fill="#B2DFDB"/>
<rect x="859.05" y="369.2" width="2.4" height="7.1" fill="#26A69A"/>
<rect x="862.21" y="369.0" width="2.4" height="7.3" fill="#26A69A"/>
<rect x="865.36" y="369.3" width="2.4" height="7.0" fill="#B2DFDB"/>
<rect x="868.52" y="371.1" width="2.4" height="5.2" fill="#B2DFDB"/>
<rect x="871.67" y="371.5" width="2.4" height="4.8" fill="#B2DFDB"/>
<rect x="874.83" y="371.2" width="2.4" height="5.1" fill="#26A69A"/>
<rect x="877.98" y="370.9" width="2.4" height="5.4" fill="#26A69A"/>
<rect x="881.14" y="369.1" width="2.4" height="7.2" fill="#26A69A"/>
<rect x="884.29" y="368.6" width="2.4" height="7.7" fill="#26A69A"/>
<rect x="887.45" y="367.2" width="2.4" height="9.1" fill="#26A69A"/>
<rect x="890.60" y="365.5" width="2.4" height="10.8" fill="#26A69A"/>
<rect x="893.76" y="368.7" width="2.4" height="7.6" fill="#B2DFDB"/>
<path d="M5.4,374.2 C7.1,374.6 12.6,376.3 15.6,376.6 C18.6,376.9 20.7,376.6 23.3,376.1 C25.9,375.6 27.2,375.0 31.1,373.5 C35.0,372.0 41.5,369.1 46.7,367.2 C51.9,365.2 57.0,363.1 62.2,361.8 C67.4,360.5 73.7,359.4 77.8,359.4 C81.9,359.4 82.9,360.9 87.1,361.8 C91.2,362.7 97.8,365.2 102.7,364.9 C107.6,364.6 111.8,361.6 116.7,360.2 C121.6,358.8 128.4,356.7 132.3,356.3 C136.2,355.9 137.1,356.8 140.0,357.9 C142.9,359.0 147.0,361.3 150.0,363.0 C153.0,364.7 155.0,365.9 157.8,368.0 C160.7,370.1 164.2,373.9 167.1,375.8 C169.9,377.8 171.8,378.7 174.9,379.7 C178.0,380.7 182.2,381.2 185.8,382.0 C189.4,382.8 193.1,384.0 196.7,384.3 C200.3,384.6 204.0,384.1 207.6,383.6 C211.2,383.1 214.9,382.1 218.5,381.2 C222.1,380.3 226.3,378.4 229.4,378.1 C232.5,377.9 234.2,378.8 237.1,379.7 C239.9,380.6 243.4,382.7 246.5,383.6 C249.6,384.5 252.7,384.6 255.8,385.1 C258.9,385.6 262.0,386.3 265.1,386.4 C268.2,386.5 270.9,386.5 274.5,385.9 C278.1,385.3 282.6,383.7 286.9,382.8 C291.1,381.9 295.8,381.6 300.0,380.6 C304.2,379.6 308.5,377.9 312.4,377.0 C316.3,376.1 318.9,376.1 323.3,375.0 C327.7,373.9 333.7,371.7 338.9,370.3 C344.1,368.9 348.5,367.7 354.5,366.5 C360.5,365.3 369.5,363.4 374.7,363.3 C379.9,363.2 382.0,364.8 385.6,365.7 C389.2,366.6 392.6,368.2 396.5,368.8 C400.4,369.4 404.2,369.8 408.9,369.3 C413.6,368.8 419.8,366.6 424.5,365.7 C429.2,364.8 432.6,363.9 436.9,363.7 C441.1,363.5 445.7,364.3 450.0,364.4 C454.3,364.5 459.3,363.0 462.8,364.2 C466.3,365.4 468.3,369.2 471.1,371.5 C473.9,373.8 476.6,376.6 479.4,378.1 C482.2,379.7 484.6,380.5 487.7,380.8 C490.8,381.1 494.6,380.5 498.1,379.8 C501.6,379.1 504.4,377.7 508.5,376.7 C512.6,375.7 518.9,374.4 523.0,374.0 C527.1,373.6 527.4,374.4 533.4,374.6 C539.4,374.9 553.7,375.3 558.9,375.5 C564.1,375.7 560.1,375.9 564.5,375.6 C568.9,375.4 579.7,374.9 585.2,374.0 C590.7,373.1 593.6,372.3 597.7,370.5 C601.9,368.7 606.0,365.4 610.1,363.2 C614.2,360.9 618.8,358.6 622.6,357.0 C626.4,355.4 630.1,354.2 633.0,353.9 C635.9,353.5 637.7,354.5 640.0,354.9 C642.3,355.3 643.0,355.5 646.7,356.3 C650.4,357.1 657.5,359.1 662.2,359.9 C666.9,360.7 669.5,361.1 674.7,361.0 C679.9,360.9 687.7,359.9 693.4,359.0 C699.1,358.1 704.2,355.7 708.9,355.6 C713.6,355.6 717.5,357.3 721.4,358.7 C725.3,360.1 728.7,362.7 732.3,364.1 C735.9,365.5 740.1,366.5 743.1,367.2 C746.1,367.9 747.4,368.2 750.0,368.5 C752.6,368.8 755.7,368.8 758.6,369.1 C761.5,369.4 763.0,370.5 767.3,370.5 C771.6,370.5 780.3,369.8 784.6,369.1 C788.9,368.4 790.3,367.6 793.2,366.5 C796.1,365.4 798.9,363.5 801.8,362.2 C804.7,360.9 806.8,360.2 810.5,358.8 C814.2,357.4 820.0,355.1 824.3,353.6 C828.6,352.2 832.6,351.5 836.4,350.1 C840.1,348.7 843.3,347.2 846.8,345.3 C850.2,343.4 853.6,341.0 857.1,338.9 C860.6,336.8 864.0,334.5 867.5,332.8 C871.0,331.1 874.7,330.2 877.9,328.5 C881.1,326.8 883.6,324.4 886.5,322.5 C889.4,320.6 893.8,317.9 895.2,317.0" fill="none" stroke="#FF6D00" stroke-width="0.9" stroke-opacity="0.75"/>
<path d="M5.4,375.0 C6.6,375.4 10.4,376.7 12.4,377.3 C14.4,377.9 15.4,378.9 17.1,378.9 C18.8,378.9 20.9,378.3 22.6,377.3 C24.3,376.3 25.5,374.2 27.2,372.7 C28.9,371.1 30.5,369.2 32.7,368.0 C34.9,366.8 38.2,366.5 40.5,365.7 C42.8,364.9 44.6,364.4 46.7,363.3 C48.8,362.2 51.0,360.3 52.9,359.4 C54.8,358.5 56.2,357.9 58.3,357.9 C60.4,357.9 62.6,359.3 65.3,359.4 C68.0,359.5 72.1,358.0 74.7,358.4 C77.3,358.8 78.8,360.7 80.9,361.8 C83.0,362.9 85.0,364.2 87.1,364.9 C89.2,365.6 90.8,365.9 93.4,366.1 C96.0,366.3 100.1,367.2 102.7,366.1 C105.3,365.0 107.1,361.1 108.9,359.4 C110.7,357.6 111.5,356.3 113.6,355.6 C115.7,354.9 118.8,355.3 121.4,355.1 C124.0,354.9 127.0,354.1 129.1,354.3 C131.2,354.5 132.0,355.2 133.8,356.3 C135.6,357.4 137.9,359.2 140.0,361.0 C142.1,362.8 144.6,365.6 146.3,367.2 C148.0,368.8 148.3,369.0 150.0,370.3 C151.7,371.6 154.1,373.3 156.2,375.0 C158.3,376.7 160.3,378.8 162.4,380.5 C164.5,382.2 166.6,384.5 168.7,385.1 C170.8,385.7 172.3,384.5 174.9,384.3 C177.5,384.1 180.8,383.6 184.2,384.0 C187.6,384.4 192.2,386.2 195.1,386.4 C197.9,386.6 199.0,385.8 201.3,385.1 C203.6,384.4 206.8,382.9 209.1,382.0 C211.4,381.1 213.0,380.7 215.3,379.7 C217.6,378.7 220.8,376.5 223.1,376.1 C225.4,375.7 227.3,376.7 229.4,377.3 C231.5,377.9 233.3,378.4 235.6,379.7 C237.9,381.0 240.8,383.9 243.4,385.1 C246.0,386.3 248.5,386.2 251.1,386.7 C253.7,387.2 256.7,387.7 258.9,388.2 C261.1,388.7 262.3,389.8 264.4,389.5 C266.5,389.2 268.9,387.7 271.4,386.7 C273.8,385.7 276.5,384.6 279.1,383.6 C281.7,382.6 284.6,381.3 286.9,380.8 C289.2,380.3 290.9,381.2 293.1,380.5 C295.3,379.8 297.8,377.6 300.0,376.6 C302.2,375.6 303.9,374.9 306.2,374.5 C308.5,374.1 311.1,374.2 314.0,374.2 C316.9,374.1 320.4,374.8 323.3,374.2 C326.2,373.6 328.0,371.9 331.1,370.3 C334.2,368.7 338.1,365.6 342.0,364.6 C345.9,363.7 351.1,364.8 354.5,364.6 C357.9,364.5 359.3,364.2 362.2,363.7 C365.1,363.2 369.0,361.8 371.6,361.8 C374.2,361.8 375.5,362.7 377.8,363.7 C380.1,364.7 383.0,366.6 385.6,368.0 C388.2,369.4 390.8,372.0 393.4,372.4 C396.0,372.8 398.5,370.8 401.1,370.3 C403.7,369.8 406.6,370.0 408.9,369.6 C411.2,369.2 412.8,368.9 415.1,368.0 C417.4,367.1 420.3,365.1 422.9,364.1 C425.5,363.1 428.6,362.1 430.7,361.8 C432.8,361.6 433.8,362.1 435.4,362.6 C436.9,363.1 437.6,364.4 440.0,364.6 C442.4,364.9 446.8,364.2 450.0,364.1 C453.2,364.0 456.8,363.7 459.3,363.7 C461.8,363.7 463.3,362.4 464.9,364.2 C466.5,366.0 467.3,371.0 469.0,374.6 C470.7,378.2 473.4,383.3 475.3,385.6 C477.2,387.9 478.9,388.3 480.5,388.5 C482.1,388.7 482.4,388.1 484.6,387.0 C486.9,385.9 491.1,383.3 494.0,381.9 C496.9,380.5 499.4,380.2 502.2,378.8 C504.9,377.4 508.1,374.8 510.5,373.6 C512.9,372.4 514.4,371.5 516.8,371.5 C519.2,371.5 522.6,373.1 525.0,373.6 C527.4,374.1 526.9,374.3 531.3,374.6 C535.6,374.9 545.6,375.3 551.1,375.5 C556.6,375.7 560.5,376.1 564.5,375.6 C568.5,375.1 571.4,373.2 574.9,372.5 C578.4,371.8 582.1,372.2 585.2,371.5 C588.3,370.8 590.7,370.1 593.5,368.4 C596.3,366.7 599.0,363.5 601.8,361.1 C604.6,358.7 607.3,355.4 610.1,353.9 C612.9,352.3 615.6,352.3 618.4,351.8 C621.2,351.3 624.3,350.5 626.7,350.7 C629.1,350.9 630.8,351.9 633.0,352.8 C635.2,353.7 638.5,355.2 640.0,355.9 C641.5,356.6 640.4,356.5 642.0,357.1 C643.6,357.7 647.5,358.6 649.8,359.4 C652.1,360.2 653.4,361.4 656.0,361.8 C658.6,362.2 662.5,361.9 665.4,362.1 C668.2,362.3 670.8,363.4 673.1,363.0 C675.4,362.6 676.0,360.2 679.4,359.4 C682.8,358.5 689.8,358.8 693.4,357.9 C697.0,357.0 699.0,354.9 701.1,354.3 C703.2,353.7 703.5,353.6 705.8,354.3 C708.1,355.0 712.0,356.4 715.1,358.7 C718.2,361.0 721.6,366.2 724.5,368.0 C727.4,369.8 729.7,369.5 732.3,369.6 C734.9,369.7 737.0,368.9 740.0,368.8 C743.0,368.8 746.9,369.0 750.0,369.3 C753.1,369.6 756.3,370.0 758.6,370.5 C760.9,371.0 762.1,371.9 763.8,372.2 C765.5,372.5 767.0,372.6 769.0,372.2 C771.0,371.8 773.6,370.5 775.9,370.0 C778.2,369.5 780.8,369.7 782.8,369.1 C784.8,368.5 786.0,368.1 788.0,366.5 C790.0,364.9 792.6,361.3 794.9,359.6 C797.2,357.9 799.2,357.1 801.8,356.2 C804.4,355.3 807.3,355.6 810.5,354.4 C813.7,353.2 817.6,349.7 820.8,349.2 C824.0,348.7 826.6,352.0 829.5,351.5 C832.4,351.0 835.8,347.5 838.1,346.3 C840.4,345.1 841.0,346.1 843.3,344.1 C845.6,342.2 849.4,336.8 852.0,334.6 C854.6,332.4 856.6,332.2 858.9,330.8 C861.2,329.4 863.8,327.0 865.8,326.3 C867.8,325.6 868.9,327.4 871.0,326.8 C873.1,326.2 876.7,324.4 878.7,322.8 C880.7,321.2 881.8,318.7 883.1,317.3 C884.4,315.9 885.1,316.2 886.5,314.7 C887.9,313.2 890.2,309.1 891.7,308.3 C893.2,307.5 894.6,309.4 895.2,309.6" fill="none" stroke="#2962FF" stroke-width="0.9" stroke-opacity="0.75"/>
</g>
<text x="918.4" y="308.0" font-size="9.0" fill="#363A45" stroke="#363A45" stroke-width="0.14" textLength="28.0" lengthAdjust="spacingAndGlyphs">3.0000</text>
<text x="918.4" y="331.9" font-size="9.0" fill="#363A45" stroke="#363A45" stroke-width="0.14" textLength="28.0" lengthAdjust="spacingAndGlyphs">2.0000</text>
<text x="918.4" y="355.8" font-size="9.0" fill="#363A45" stroke="#363A45" stroke-width="0.14" textLength="28.0" lengthAdjust="spacingAndGlyphs">1.0000</text>
<text x="918.4" y="379.7" font-size="9.0" fill="#363A45" stroke="#363A45" stroke-width="0.14" textLength="28.0" lengthAdjust="spacingAndGlyphs">0.0000</text>
<text x="9.7" y="409.3" font-size="6.7" fill="#3B3F4A" stroke="#3B3F4A" stroke-width="0.14" textLength="43.6" lengthAdjust="spacingAndGlyphs">RSI (14, close)</text>
<text x="57.0" y="409.3" font-size="6.7" fill="#7E57C2" stroke="#7E57C2" stroke-width="0.14" textLength="16.7" lengthAdjust="spacingAndGlyphs">68.15</text>
<text x="77.5" y="409.3" font-size="6.7" fill="#FBC02D" stroke="#FBC02D" stroke-width="0.14" textLength="15.7" lengthAdjust="spacingAndGlyphs">79.17</text>
<rect x="5.5" y="429.8" width="906.5" height="56.5" fill="#7E57C2" fill-opacity="0.1"/>
<line x1="5.5" y1="429.8" x2="912" y2="429.8" stroke="#787B86" stroke-width="0.9" stroke-dasharray="2.6 3.4" stroke-opacity="0.55"/>
<line x1="5.5" y1="458.05" x2="912" y2="458.05" stroke="#787B86" stroke-width="0.9" stroke-dasharray="2.6 3.4" stroke-opacity="0.55"/>
<line x1="5.5" y1="486.3" x2="912" y2="486.3" stroke="#787B86" stroke-width="0.9" stroke-dasharray="2.6 3.4" stroke-opacity="0.55"/>
<polygon points="5.8,464.5 8.7,459.4 11.6,467.1 15.3,463.0 18.2,462.3 21.8,458.6 24.0,447.7 27.6,439.4 33.5,439.7 37.1,448.2 40.0,442.6 43.6,439.0 46.6,445.3 49.5,434.6 52.4,438.0 56.0,437.1 62.6,447.7 68.4,442.6 74.9,439.0 80.8,457.2 84.4,460.1 87.3,453.6 90.2,449.6 93.8,453.6 100.4,448.5 103.3,448.5 106.5,430.3 109.4,430.3 112.6,424.5 115.9,439.7 119.5,439.7 125.4,440.5 128.6,434.2 131.2,440.5 134.8,454.3 138.5,457.9 144.3,456.2 147.2,469.6 150.8,461.6 156.7,471.7 160.3,471.0 163.9,474.4 166.1,472.9 169.0,474.4 172.7,463.7 176.3,462.7 180.7,466.7 185.0,460.4 187.9,470.3 191.6,469.1 194.5,471.7 198.1,465.2 201.0,465.6 205.4,457.9 209.0,456.5 212.7,459.8 216.5,450.6 218.7,449.6 223.1,449.6 226.7,462.3 230.4,466.7 235.5,467.4 239.1,479.0 242.0,481.9 246.4,473.2 250.7,472.5 254.4,470.0 258.7,476.1 261.7,479.0 264.6,478.7 267.5,468.1 269.7,467.1 274.0,460.8 279.8,458.4 282.7,457.9 285.7,454.0 289.3,466.2 292.9,460.8 297.3,448.5 301.7,455.0 305.3,449.6 308.2,449.9 311.1,455.7 314.8,454.6 317.9,459.4 320.8,456.5 323.7,449.9 327.4,439.7 330.3,445.3 333.2,442.4 336.8,436.5 340.5,434.2 343.4,436.8 346.3,444.8 349.2,441.9 352.1,445.6 355.7,440.9 358.6,439.4 361.6,443.4 365.2,435.1 368.1,438.3 371.0,435.4 374.7,445.6 377.6,447.7 381.2,457.9 383.4,456.5 387.7,465.2 390.7,466.2 393.6,458.4 396.5,453.6 400.1,444.8 403.0,444.8 405.9,446.7 409.3,454.6 411.8,444.1 415.4,440.5 418.3,434.2 424.4,434.2 428.0,433.2 431.6,438.3 434.5,444.1 437.5,452.1 441.1,452.1 444.0,442.6 446.9,444.1 450.3,435.4 453.5,441.2 456.4,441.9 459.6,448.5 462.5,445.8 465.1,463.0 469.5,489.2 472.4,482.7 475.3,484.1 478.2,471.0 481.8,467.4 485.5,457.9 491.3,457.2 494.2,453.6 498.6,455.7 503.7,456.5 507.3,445.6 510.2,445.8 513.8,451.4 516.8,451.7 521.8,457.2 526.2,461.6 529.1,465.2 532.3,458.6 534.9,450.6 538.1,460.1 541.3,460.1 544.6,456.5 547.6,457.9 551.2,454.3 554.8,462.3 557.7,457.9 561.1,461.6 564.0,460.1 567.2,451.4 570.4,448.5 573.0,452.1 575.9,447.7 579.6,451.4 582.5,455.0 585.8,451.1 589.0,455.0 592.2,437.6 596.3,441.5 601.4,431.3 604.7,429.5 607.9,425.2 610.8,428.8 614.5,432.5 623.9,432.5 626.8,426.3 629.8,433.9 633.6,444.8 636.5,444.8 639.5,446.3 645.7,439.4 648.9,449.2 651.8,448.2 655.5,448.5 658.4,442.4 661.3,439.4 667.8,441.5 671.0,448.5 673.6,440.5 677.3,428.1 680.2,433.2 683.8,440.5 689.7,435.4 693.3,435.1 696.2,428.8 699.1,425.9 702.0,425.9 705.7,431.0 708.6,446.3 714.4,446.7 718.0,461.6 721.4,467.4 726.0,460.1 730.4,452.5 733.6,452.1 737.7,446.3 739.7,445.6 743.4,457.2 746.6,453.6 749.6,445.6 753.2,453.1 758.3,453.6 761.9,462.3 765.6,454.3 768.8,450.6 772.1,443.4 775.7,448.8 780.1,448.2 785.2,439.0 790.3,425.9 793.9,424.5 797.6,432.5 803.4,427.8 806.6,434.6 810.7,431.7 815.0,426.6 819.4,421.5 822.3,425.2 825.2,439.0 828.8,437.6 830.0,434.9 831.6,428.4 834.9,423.1 838.2,423.8 840.9,425.3 844.2,418.0 847.5,414.2 850.5,411.5 854.0,415.5 857.1,413.3 860.6,418.5 863.3,414.7 866.2,413.1 869.5,422.4 872.6,418.5 875.8,416.4 879.1,413.6 881.8,408.5 883.5,410.9 885.4,418.3 888.4,414.2 891.6,411.8 892.7,415.3 894.6,432.4 894.6,429.8 5.8,429.8" fill="url(#ob)" clip-path="url(#above70)"/>
<path d="M5.8,453.6 C6.4,453.6 6.8,452.9 9.5,453.6 C12.2,454.3 18.5,457.1 21.8,457.6 C25.1,458.1 26.2,457.1 29.1,456.5 C32.0,455.9 36.1,455.6 39.3,454.3 C42.4,453.0 44.9,450.2 48.0,448.5 C51.1,446.8 54.6,445.3 58.2,444.1 C61.8,442.9 66.4,441.4 69.8,441.2 C73.2,440.9 75.7,442.0 78.6,442.6 C81.5,443.2 83.4,443.8 87.3,444.8 C91.2,445.8 97.5,448.4 101.9,448.5 C106.3,448.6 110.3,445.9 113.7,445.3 C117.1,444.7 119.6,445.5 122.5,444.8 C125.4,444.1 127.8,441.6 131.2,441.2 C134.6,440.8 139.9,441.8 142.8,442.4 C145.7,443.0 145.9,442.9 148.6,444.8 C151.3,446.7 155.4,450.8 158.8,453.6 C162.2,456.4 165.8,459.6 169.0,461.6 C172.2,463.7 174.8,464.9 177.7,465.9 C180.6,466.9 183.1,467.0 186.5,467.4 C189.9,467.8 194.7,468.8 198.1,468.5 C201.5,468.2 204.0,466.8 206.8,465.9 C209.6,465.0 212.1,464.1 215.0,463.3 C217.9,462.5 220.7,461.1 224.5,460.8 C228.3,460.5 233.9,460.8 237.6,461.3 C241.2,461.8 243.0,462.7 246.4,463.7 C249.8,464.7 254.4,465.9 258.0,467.4 C261.6,468.9 264.8,472.3 268.2,472.9 C271.6,473.5 275.2,471.9 278.4,471.0 C281.5,470.1 284.0,468.6 287.1,467.4 C290.2,466.2 293.7,465.3 297.3,463.7 C300.9,462.1 305.4,459.3 308.9,457.9 C312.3,456.5 314.6,456.5 318.0,455.5 C321.4,454.5 325.6,453.4 329.5,452.1 C333.4,450.8 337.3,448.9 341.2,447.7 C345.1,446.5 348.9,445.9 352.8,444.8 C356.7,443.7 361.6,442.0 364.5,441.2 C367.4,440.4 368.1,440.1 370.3,440.0 C372.5,439.9 374.7,439.6 377.6,440.5 C380.5,441.4 384.6,444.2 387.7,445.6 C390.8,447.0 393.1,448.1 396.5,448.8 C399.9,449.5 405.0,449.4 408.1,449.9 C411.2,450.4 413.1,451.8 415.4,451.7 C417.7,451.6 419.8,450.4 422.0,449.5 C424.2,448.6 426.4,447.4 428.7,446.3 C431.0,445.2 433.1,443.5 436.0,442.9 C438.9,442.2 443.1,442.7 446.2,442.4 C449.3,442.1 452.2,441.0 454.9,440.9 C457.6,440.8 459.8,440.6 462.2,441.9 C464.6,443.2 466.8,446.0 469.5,448.5 C472.2,451.0 475.5,455.2 478.2,456.9 C480.9,458.6 482.6,458.1 485.5,458.9 C488.4,459.7 492.3,460.8 495.7,461.9 C499.1,462.9 502.9,465.4 505.8,465.2 C508.7,465.0 510.4,462.5 513.1,460.8 C515.8,459.1 519.0,456.0 521.8,455.0 C524.6,454.0 527.0,454.5 530.0,454.6 C533.0,454.7 536.0,455.2 539.5,455.4 C543.0,455.6 547.3,455.2 551.2,455.7 C555.1,456.2 558.9,458.5 562.8,458.6 C566.7,458.7 570.1,457.2 574.5,456.5 C578.9,455.8 585.1,455.5 589.0,454.6 C592.9,453.8 594.3,453.4 597.7,451.4 C601.1,449.4 605.5,444.9 609.4,442.6 C613.3,440.3 617.6,439.1 621.0,437.6 C624.4,436.2 627.1,434.5 629.8,433.9 C632.5,433.3 635.1,434.1 637.3,434.2 C639.5,434.3 640.0,433.6 643.1,434.6 C646.2,435.6 652.1,438.7 656.2,440.0 C660.3,441.3 664.9,441.8 667.8,442.6 C670.7,443.4 671.4,444.9 673.6,444.8 C675.8,444.7 678.0,442.5 680.9,441.9 C683.8,441.2 687.5,441.9 691.1,440.9 C694.7,439.9 699.3,437.0 702.7,436.1 C706.1,435.2 709.1,435.6 711.5,435.7 C713.9,435.8 715.1,435.8 717.3,436.8 C719.5,437.8 721.7,440.4 724.6,441.9 C727.5,443.4 731.1,444.0 734.8,445.6 C738.5,447.2 743.4,450.1 746.6,451.4 C749.8,452.7 751.5,453.1 753.9,453.6 C756.3,454.1 758.1,454.7 761.2,454.3 C764.4,453.9 768.9,452.0 772.8,451.4 C776.7,450.8 780.6,451.7 784.5,450.6 C788.4,449.5 792.2,446.9 796.1,444.8 C800.0,442.8 804.3,440.0 807.7,438.3 C811.1,436.6 813.8,435.9 816.5,434.6 C819.2,433.3 821.5,431.1 823.8,430.3 C826.0,429.5 827.1,430.1 830.0,429.7 C832.9,429.3 837.3,428.8 840.9,427.8 C844.5,426.9 848.2,425.0 851.8,424.0 C855.4,423.0 859.1,422.7 862.7,421.6 C866.3,420.6 870.0,418.8 873.6,417.7 C877.2,416.6 881.7,415.8 884.6,415.3 C887.5,414.8 889.3,414.5 891.1,414.7 C892.9,414.9 894.8,416.3 895.5,416.6" fill="none" stroke="#FDD835" stroke-width="0.9" stroke-opacity="0.65"/>
<polyline points="5.8,464.5 8.7,459.4 11.6,467.1 15.3,463.0 18.2,462.3 21.8,458.6 24.0,447.7 27.6,439.4 33.5,439.7 37.1,448.2 40.0,442.6 43.6,439.0 46.6,445.3 49.5,434.6 52.4,438.0 56.0,437.1 62.6,447.7 68.4,442.6 74.9,439.0 80.8,457.2 84.4,460.1 87.3,453.6 90.2,449.6 93.8,453.6 100.4,448.5 103.3,448.5 106.5,430.3 109.4,430.3 112.6,424.5 115.9,439.7 119.5,439.7 125.4,440.5 128.6,434.2 131.2,440.5 134.8,454.3 138.5,457.9 144.3,456.2 147.2,469.6 150.8,461.6 156.7,471.7 160.3,471.0 163.9,474.4 166.1,472.9 169.0,474.4 172.7,463.7 176.3,462.7 180.7,466.7 185.0,460.4 187.9,470.3 191.6,469.1 194.5,471.7 198.1,465.2 201.0,465.6 205.4,457.9 209.0,456.5 212.7,459.8 216.5,450.6 218.7,449.6 223.1,449.6 226.7,462.3 230.4,466.7 235.5,467.4 239.1,479.0 242.0,481.9 246.4,473.2 250.7,472.5 254.4,470.0 258.7,476.1 261.7,479.0 264.6,478.7 267.5,468.1 269.7,467.1 274.0,460.8 279.8,458.4 282.7,457.9 285.7,454.0 289.3,466.2 292.9,460.8 297.3,448.5 301.7,455.0 305.3,449.6 308.2,449.9 311.1,455.7 314.8,454.6 317.9,459.4 320.8,456.5 323.7,449.9 327.4,439.7 330.3,445.3 333.2,442.4 336.8,436.5 340.5,434.2 343.4,436.8 346.3,444.8 349.2,441.9 352.1,445.6 355.7,440.9 358.6,439.4 361.6,443.4 365.2,435.1 368.1,438.3 371.0,435.4 374.7,445.6 377.6,447.7 381.2,457.9 383.4,456.5 387.7,465.2 390.7,466.2 393.6,458.4 396.5,453.6 400.1,444.8 403.0,444.8 405.9,446.7 409.3,454.6 411.8,444.1 415.4,440.5 418.3,434.2 424.4,434.2 428.0,433.2 431.6,438.3 434.5,444.1 437.5,452.1 441.1,452.1 444.0,442.6 446.9,444.1 450.3,435.4 453.5,441.2 456.4,441.9 459.6,448.5 462.5,445.8 465.1,463.0 469.5,489.2 472.4,482.7 475.3,484.1 478.2,471.0 481.8,467.4 485.5,457.9 491.3,457.2 494.2,453.6 498.6,455.7 503.7,456.5 507.3,445.6 510.2,445.8 513.8,451.4 516.8,451.7 521.8,457.2 526.2,461.6 529.1,465.2 532.3,458.6 534.9,450.6 538.1,460.1 541.3,460.1 544.6,456.5 547.6,457.9 551.2,454.3 554.8,462.3 557.7,457.9 561.1,461.6 564.0,460.1 567.2,451.4 570.4,448.5 573.0,452.1 575.9,447.7 579.6,451.4 582.5,455.0 585.8,451.1 589.0,455.0 592.2,437.6 596.3,441.5 601.4,431.3 604.7,429.5 607.9,425.2 610.8,428.8 614.5,432.5 623.9,432.5 626.8,426.3 629.8,433.9 633.6,444.8 636.5,444.8 639.5,446.3 645.7,439.4 648.9,449.2 651.8,448.2 655.5,448.5 658.4,442.4 661.3,439.4 667.8,441.5 671.0,448.5 673.6,440.5 677.3,428.1 680.2,433.2 683.8,440.5 689.7,435.4 693.3,435.1 696.2,428.8 699.1,425.9 702.0,425.9 705.7,431.0 708.6,446.3 714.4,446.7 718.0,461.6 721.4,467.4 726.0,460.1 730.4,452.5 733.6,452.1 737.7,446.3 739.7,445.6 743.4,457.2 746.6,453.6 749.6,445.6 753.2,453.1 758.3,453.6 761.9,462.3 765.6,454.3 768.8,450.6 772.1,443.4 775.7,448.8 780.1,448.2 785.2,439.0 790.3,425.9 793.9,424.5 797.6,432.5 803.4,427.8 806.6,434.6 810.7,431.7 815.0,426.6 819.4,421.5 822.3,425.2 825.2,439.0 828.8,437.6 830.0,434.9 831.6,428.4 834.9,423.1 838.2,423.8 840.9,425.3 844.2,418.0 847.5,414.2 850.5,411.5 854.0,415.5 857.1,413.3 860.6,418.5 863.3,414.7 866.2,413.1 869.5,422.4 872.6,418.5 875.8,416.4 879.1,413.6 881.8,408.5 883.5,410.9 885.4,418.3 888.4,414.2 891.6,411.8 892.7,415.3 894.6,432.4" fill="none" stroke="#7E57C2" stroke-width="0.85" stroke-opacity="0.85"/>
<text x="918.2" y="419.1" font-size="9.0" fill="#363A45" stroke="#363A45" stroke-width="0.14" textLength="23.5" lengthAdjust="spacingAndGlyphs">80.00</text>
<text x="918.2" y="447.3" font-size="9.0" fill="#363A45" stroke="#363A45" stroke-width="0.14" textLength="23.5" lengthAdjust="spacingAndGlyphs">60.00</text>
<text x="918.2" y="475.6" font-size="9.0" fill="#363A45" stroke="#363A45" stroke-width="0.14" textLength="23.5" lengthAdjust="spacingAndGlyphs">40.00</text>
<text x="58.7" y="510.5" font-size="8.3" fill="#3B3F4A" stroke="#3B3F4A" stroke-width="0.14" textLength="13.8" lengthAdjust="spacingAndGlyphs">Oct</text>
<text x="130.7" y="510.5" font-size="8.3" fill="#3B3F4A" stroke="#3B3F4A" stroke-width="0.14" textLength="14.6" lengthAdjust="spacingAndGlyphs">Nov</text>
<text x="194.1" y="510.5" font-size="8.3" fill="#3B3F4A" stroke="#3B3F4A" stroke-width="0.14" textLength="14.1" lengthAdjust="spacingAndGlyphs">Dec</text>
<text x="257.0" y="510.5" font-size="8.3" fill="#3B3F4A" stroke="#3B3F4A" stroke-width="0.14" textLength="21.3" lengthAdjust="spacingAndGlyphs" font-weight="bold">2025</text>
<text x="326.6" y="510.5" font-size="8.3" fill="#3B3F4A" stroke="#3B3F4A" stroke-width="0.14" textLength="14" lengthAdjust="spacingAndGlyphs">Feb</text>
<text x="386.7" y="510.5" font-size="8.3" fill="#3B3F4A" stroke="#3B3F4A" stroke-width="0.14" textLength="14" lengthAdjust="spacingAndGlyphs">Mar</text>
<text x="453.3" y="510.5" font-size="8.3" fill="#3B3F4A" stroke="#3B3F4A" stroke-width="0.14" textLength="13" lengthAdjust="spacingAndGlyphs">Apr</text>
<text x="518.2" y="510.5" font-size="8.3" fill="#3B3F4A" stroke="#3B3F4A" stroke-width="0.14" textLength="14.9" lengthAdjust="spacingAndGlyphs">May</text>
<text x="586.0" y="510.5" font-size="8.3" fill="#3B3F4A" stroke="#3B3F4A" stroke-width="0.14" textLength="12.8" lengthAdjust="spacingAndGlyphs">Jun</text>
<text x="650.0" y="510.5" font-size="8.3" fill="#3B3F4A" stroke="#3B3F4A" stroke-width="0.14" textLength="10.8" lengthAdjust="spacingAndGlyphs">Jul</text>
<text x="717.2" y="510.5" font-size="8.3" fill="#3B3F4A" stroke="#3B3F4A" stroke-width="0.14" textLength="15.1" lengthAdjust="spacingAndGlyphs">Aug</text>
<text x="783.5" y="510.5" font-size="8.3" fill="#3B3F4A" stroke="#3B3F4A" stroke-width="0.14" textLength="14.4" lengthAdjust="spacingAndGlyphs">Sep</text>
<g fill="none" stroke-linecap="square"><g stroke="#F0F0F3" stroke-width="2.9"><path transform="translate(849.5,497.2) scale(0.9)" d="M5,1 L1,8 M3.5,5 L3.5,10 M8,4.5 L15,2.5 M10,1 L10,8.5 L16.5,8.5 L16.5,7 M0.5,12.5 L19.5,12.5 M10,9 L10,19.5"/><path transform="translate(869,497.2) scale(0.9)" d="M1,1.5 L3,3.5 M0.5,8 L3,8 L3,15 L0.5,17.5 M2,17 Q5,19.5 9,19 L19.5,19 M7,1 L17,1 L13,3.5 M7,5 L17,5 L17,16 L15.5,15 M7,5 L7,16 M7,9 L17,9 M7,12.5 L17,12.5 M12,5 L12,16"/><path transform="translate(890,497.2) scale(0.9)" d="M9.5,0 L8.5,3 M3,3.5 L17,3.5 L17,19 L3,19 Z M3,11 L17,11"/><path transform="translate(910,497.2) scale(0.9)" d="M4,0 L1,6 M1,5.5 L7,5.5 M1,9.5 L7,9.5 M4,5.5 L4,18 L8,15 M10,2 L18,2 L18,12 L10,12 M10,7 L18,7 M10,2 L10,19 L14,16.5 M13,12 L19,19"/><path transform="translate(929.5,497.2) scale(0.9)" d="M1,20 L1,1 L19,1 L19,20 L17.5,19 M5,5 L9,14 M9,5 L5,14 M11,5 L15,14 M15,5 L11,14"/></g><g stroke="#fff" stroke-width="1.9"><path transform="translate(849.5,497.2) scale(0.9)" d="M5,1 L1,8 M3.5,5 L3.5,10 M8,4.5 L15,2.5 M10,1 L10,8.5 L16.5,8.5 L16.5,7 M0.5,12.5 L19.5,12.5 M10,9 L10,19.5"/><path transform="translate(869,497.2) scale(0.9)" d="M1,1.5 L3,3.5 M0.5,8 L3,8 L3,15 L0.5,17.5 M2,17 Q5,19.5 9,19 L19.5,19 M7,1 L17,1 L13,3.5 M7,5 L17,5 L17,16 L15.5,15 M7,5 L7,16 M7,9 L17,9 M7,12.5 L17,12.5 M12,5 L12,16"/><path transform="translate(890,497.2) scale(0.9)" d="M9.5,0 L8.5,3 M3,3.5 L17,3.5 L17,19 L3,19 Z M3,11 L17,11"/><path transform="translate(910,497.2) scale(0.9)" d="M4,0 L1,6 M1,5.5 L7,5.5 M1,9.5 L7,9.5 M4,5.5 L4,18 L8,15 M10,2 L18,2 L18,12 L10,12 M10,7 L18,7 M10,2 L10,19 L14,16.5 M13,12 L19,19"/><path transform="translate(929.5,497.2) scale(0.9)" d="M1,20 L1,1 L19,1 L19,20 L17.5,19 M5,5 L9,14 M9,5 L5,14 M11,5 L15,14 M15,5 L11,14"/></g></g>
<g fill="none" stroke="#F1F1F4" stroke-width="1.1"><circle cx="825.6" cy="512.3" r="20.5"/><circle cx="825.6" cy="512.3" r="17.5"/><path d="M838,502 L818,502 Q813,502 813,507 L813,518 Q813,523 818,523 L834,523 L838,517 L819,517 L819,515 L836,509 L819,509 L819,507 L836,507 Z"/></g>
<text x="849" y="529" font-size="10.5" fill="#fff" textLength="99" lengthAdjust="spacingAndGlyphs" font-weight="bold" stroke="#ECECF0" stroke-width="0.6" paint-order="stroke">www.ebaiyin.com</text>
<text x="850.9" y="510.5" font-size="8.3" fill="#3B3F4A" stroke="#3B3F4A" stroke-width="0.14" textLength="13.4" lengthAdjust="spacingAndGlyphs">Oct</text>
<line x1="849" y1="508.6" x2="868" y2="508.6" stroke="#fff" stroke-width="1.2"/>
<g transform="translate(6.4,527.4) scale(0.433)" fill="#131722"><path d="M14 22H7V11H0V4h14v18zM28 22h-8l7.5-18h8L28 22z"/><circle cx="20" cy="8" r="4"/></g>
<text x="26.6" y="537.2" font-size="11" font-weight="bold" fill="#131722">TradingView</text>
</svg></body></html>
